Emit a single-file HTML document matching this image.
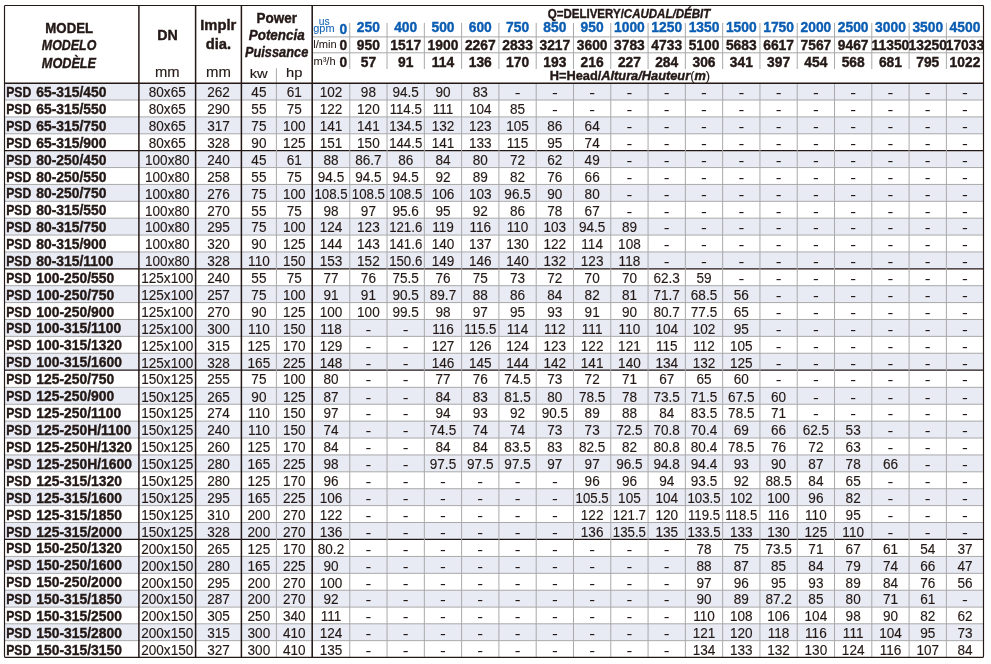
<!DOCTYPE html>
<html lang="en"><head><meta charset="utf-8"><title>PSD performance table</title>
<style>
html,body{margin:0;padding:0;background:#fff;}
body{width:991px;height:664px;overflow:hidden;}
svg{display:block;will-change:transform;font-family:'Liberation Sans', Arial, sans-serif;font-size:13px;fill:#231815;text-anchor:middle;}
text{stroke:#231815;stroke-width:.15px}
.b{font-weight:bold;stroke-width:.4px}
.i{font-style:italic}
.n{font-weight:normal;stroke-width:.15px}
.u{fill:#0b5db3;stroke:#0b5db3}
.d{stroke:none}
.t{stroke-width:.04px}
</style></head><body>
<svg width="991" height="664" viewBox="0 0 991 664">
<rect x="4.5" y="83.15" width="979" height="16.88" fill="#e8ebf4"/>
<rect x="4.5" y="116.91" width="979" height="16.88" fill="#e8ebf4"/>
<rect x="4.5" y="150.67" width="979" height="16.88" fill="#e8ebf4"/>
<rect x="4.5" y="184.43" width="979" height="16.88" fill="#e8ebf4"/>
<rect x="4.5" y="218.18" width="979" height="16.88" fill="#e8ebf4"/>
<rect x="4.5" y="251.94" width="979" height="16.88" fill="#e8ebf4"/>
<rect x="4.5" y="285.7" width="979" height="16.89" fill="#e8ebf4"/>
<rect x="4.5" y="319.48" width="979" height="16.89" fill="#e8ebf4"/>
<rect x="4.5" y="353.26" width="979" height="16.89" fill="#e8ebf4"/>
<rect x="4.5" y="387.35" width="979" height="16.89" fill="#e8ebf4"/>
<rect x="4.5" y="421.14" width="979" height="16.89" fill="#e8ebf4"/>
<rect x="4.5" y="454.93" width="979" height="16.89" fill="#e8ebf4"/>
<rect x="4.5" y="488.72" width="979" height="16.89" fill="#e8ebf4"/>
<rect x="4.5" y="522.51" width="979" height="16.89" fill="#e8ebf4"/>
<rect x="4.5" y="556.45" width="979" height="16.88" fill="#e8ebf4"/>
<rect x="4.5" y="590.22" width="979" height="16.88" fill="#e8ebf4"/>
<rect x="4.5" y="623.8" width="979" height="16.85" fill="#e8ebf4"/>
<g stroke="#a9a9aa" stroke-width="1">
<line x1="4.5" y1="100.03" x2="983.5" y2="100.03"/>
<line x1="4.5" y1="116.91" x2="983.5" y2="116.91"/>
<line x1="4.5" y1="133.79" x2="983.5" y2="133.79"/>
<line x1="4.5" y1="167.55" x2="983.5" y2="167.55"/>
<line x1="4.5" y1="184.43" x2="983.5" y2="184.43"/>
<line x1="4.5" y1="201.3" x2="983.5" y2="201.3"/>
<line x1="4.5" y1="218.18" x2="983.5" y2="218.18"/>
<line x1="4.5" y1="235.06" x2="983.5" y2="235.06"/>
<line x1="4.5" y1="251.94" x2="983.5" y2="251.94"/>
<line x1="4.5" y1="285.7" x2="983.5" y2="285.7"/>
<line x1="4.5" y1="302.59" x2="983.5" y2="302.59"/>
<line x1="4.5" y1="319.48" x2="983.5" y2="319.48"/>
<line x1="4.5" y1="336.37" x2="983.5" y2="336.37"/>
<line x1="4.5" y1="353.26" x2="983.5" y2="353.26"/>
<line x1="4.5" y1="387.35" x2="983.5" y2="387.35"/>
<line x1="4.5" y1="404.24" x2="983.5" y2="404.24"/>
<line x1="4.5" y1="421.14" x2="983.5" y2="421.14"/>
<line x1="4.5" y1="438.03" x2="983.5" y2="438.03"/>
<line x1="4.5" y1="454.93" x2="983.5" y2="454.93"/>
<line x1="4.5" y1="471.82" x2="983.5" y2="471.82"/>
<line x1="4.5" y1="488.72" x2="983.5" y2="488.72"/>
<line x1="4.5" y1="505.61" x2="983.5" y2="505.61"/>
<line x1="4.5" y1="522.51" x2="983.5" y2="522.51"/>
<line x1="4.5" y1="556.45" x2="983.5" y2="556.45"/>
<line x1="4.5" y1="573.33" x2="983.5" y2="573.33"/>
<line x1="4.5" y1="590.22" x2="983.5" y2="590.22"/>
<line x1="4.5" y1="607.1" x2="983.5" y2="607.1"/>
<line x1="4.5" y1="623.8" x2="983.5" y2="623.8"/>
<line x1="4.5" y1="640.65" x2="983.5" y2="640.65"/>
</g>
<line x1="4.5" y1="150.67" x2="983.5" y2="150.67" stroke="#231815" stroke-width="1.3"/>
<line x1="4.5" y1="268.82" x2="983.5" y2="268.82" stroke="#231815" stroke-width="1.3"/>
<line x1="4.5" y1="370.15" x2="983.5" y2="370.15" stroke="#231815" stroke-width="1.3"/>
<line x1="4.5" y1="539.4" x2="983.5" y2="539.4" stroke="#231815" stroke-width="1.3"/>
<g stroke="#a9a9aa" stroke-width="1">
<line x1="349.75" y1="83.15" x2="349.75" y2="657.3"/>
<line x1="349.75" y1="22.9" x2="349.75" y2="69"/>
<line x1="387.04" y1="83.15" x2="387.04" y2="657.3"/>
<line x1="387.04" y1="22.9" x2="387.04" y2="69"/>
<line x1="424.33" y1="83.15" x2="424.33" y2="657.3"/>
<line x1="424.33" y1="22.9" x2="424.33" y2="69"/>
<line x1="461.62" y1="83.15" x2="461.62" y2="657.3"/>
<line x1="461.62" y1="22.9" x2="461.62" y2="69"/>
<line x1="498.91" y1="83.15" x2="498.91" y2="657.3"/>
<line x1="498.91" y1="22.9" x2="498.91" y2="69"/>
<line x1="536.2" y1="83.15" x2="536.2" y2="657.3"/>
<line x1="536.2" y1="22.9" x2="536.2" y2="69"/>
<line x1="573.49" y1="83.15" x2="573.49" y2="657.3"/>
<line x1="573.49" y1="22.9" x2="573.49" y2="69"/>
<line x1="610.78" y1="83.15" x2="610.78" y2="657.3"/>
<line x1="610.78" y1="22.9" x2="610.78" y2="69"/>
<line x1="648.07" y1="83.15" x2="648.07" y2="657.3"/>
<line x1="648.07" y1="22.9" x2="648.07" y2="69"/>
<line x1="685.36" y1="83.15" x2="685.36" y2="657.3"/>
<line x1="685.36" y1="22.9" x2="685.36" y2="69"/>
<line x1="722.65" y1="83.15" x2="722.65" y2="657.3"/>
<line x1="722.65" y1="22.9" x2="722.65" y2="69"/>
<line x1="759.94" y1="83.15" x2="759.94" y2="657.3"/>
<line x1="759.94" y1="22.9" x2="759.94" y2="69"/>
<line x1="797.23" y1="83.15" x2="797.23" y2="657.3"/>
<line x1="797.23" y1="22.9" x2="797.23" y2="69"/>
<line x1="834.52" y1="83.15" x2="834.52" y2="657.3"/>
<line x1="834.52" y1="22.9" x2="834.52" y2="69"/>
<line x1="871.81" y1="83.15" x2="871.81" y2="657.3"/>
<line x1="871.81" y1="22.9" x2="871.81" y2="69"/>
<line x1="909.1" y1="83.15" x2="909.1" y2="657.3"/>
<line x1="909.1" y1="22.9" x2="909.1" y2="69"/>
<line x1="946.39" y1="83.15" x2="946.39" y2="657.3"/>
<line x1="946.39" y1="22.9" x2="946.39" y2="69"/>
<line x1="276.4" y1="68.2" x2="276.4" y2="657.3"/>
<line x1="312.2" y1="36.9" x2="983.5" y2="36.9"/>
<line x1="312.2" y1="52.8" x2="983.5" y2="52.8"/>
</g>
<line x1="138.9" y1="5.5" x2="138.9" y2="657.3" stroke="#231815" stroke-width="1.5"/>
<line x1="195.6" y1="5.5" x2="195.6" y2="657.3" stroke="#231815" stroke-width="1.5"/>
<line x1="241.4" y1="5.5" x2="241.4" y2="657.3" stroke="#231815" stroke-width="1.5"/>
<line x1="312.2" y1="5.5" x2="312.2" y2="657.3" stroke="#231815" stroke-width="1.55"/>
<line x1="4.5" y1="83.15" x2="983.5" y2="83.15" stroke="#231815" stroke-width="1.5"/>
<rect x="4.5" y="5.5" width="979" height="651.8" fill="none" rx=".8" stroke="#231815" stroke-width="1.15"/>
<text transform="translate(69.2 32.7) scale(0.893 1)" font-size="14.8" class="b">MODEL</text>
<text transform="translate(69.05 50.3) scale(0.84 1)" font-size="14.8" class="b i">MODELO</text>
<text transform="translate(68.95 68.45) scale(0.857 1)" font-size="14.8" class="b i">MODÈLE</text>
<text transform="translate(167.4 39.6) scale(0.95 1)" font-size="15" class="b">DN</text>
<text transform="translate(167.3 76.9) scale(1.04 1)" font-size="14.2">mm</text>
<text transform="translate(218.2 29.8) scale(0.984 1)" font-size="15" class="b">Implr</text>
<text transform="translate(218.4 49.4) scale(0.984 1)" font-size="15" class="b">dia.</text>
<text transform="translate(218.5 76.9) scale(1.05 1)" font-size="14.2">mm</text>
<text transform="translate(276.7 23.3) scale(0.9 1)" font-size="15" class="b">Power</text>
<text transform="translate(276.7 40.25) scale(0.92 1)" font-size="14.6" class="b i">Potencia</text>
<text transform="translate(276.6 56.7) scale(0.877 1)" font-size="14.6" class="b i">Puissance</text>
<text transform="translate(258.7 78.4) scale(1.09 1)" font-size="13.5">kw</text>
<text transform="translate(294.2 76.75) scale(1.09 1)" font-size="13.5">hp</text>
<text transform="translate(629 18.3) scale(0.848 1)" font-size="13.6" class="b">Q=DELIVERY/<tspan class="i">CAUDAL/DÉBIT</tspan></text>
<text x="629.9" y="79.6" font-size="12.8" class="b">H=Head/<tspan class="i">Altura/Hauteur</tspan><tspan class="n">(</tspan><tspan class="i">m</tspan><tspan class="n">)</tspan></text>
<text x="324.3" y="24.9" font-size="10.3" class="u t">us</text>
<text transform="translate(323.9 32.3) scale(1.04 1)" font-size="10.5" class="u t">gpm</text>
<text transform="translate(325 47.8) scale(1.03 1)" font-size="10.8" class="t">l/min</text>
<text transform="translate(324.5 65.2) scale(1.03 1)" font-size="10.8" class="t">m³/h</text>
<text transform="translate(343.3 34.2) scale(0.96 1)" font-size="14.4" class="b u">0</text>
<text transform="translate(343.3 49.9) scale(0.96 1)" font-size="14.4" class="b">0</text>
<text transform="translate(343.3 66.85) scale(0.96 1)" font-size="14.4" class="b">0</text>
<text transform="translate(368.39 31.7) scale(0.96 1)" font-size="14.4" class="b u">250</text>
<text transform="translate(368.39 49.9) scale(0.96 1)" font-size="14.4" class="b">950</text>
<text transform="translate(368.39 66.9) scale(0.96 1)" font-size="14.4" class="b">57</text>
<text transform="translate(405.69 31.7) scale(0.96 1)" font-size="14.4" class="b u">400</text>
<text transform="translate(405.69 49.9) scale(0.96 1)" font-size="14.4" class="b">1517</text>
<text transform="translate(405.69 66.9) scale(0.96 1)" font-size="14.4" class="b">91</text>
<text transform="translate(442.98 31.7) scale(0.96 1)" font-size="14.4" class="b u">500</text>
<text transform="translate(442.98 49.9) scale(0.96 1)" font-size="14.4" class="b">1900</text>
<text transform="translate(442.98 66.9) scale(0.96 1)" font-size="14.4" class="b">114</text>
<text transform="translate(480.26 31.7) scale(0.96 1)" font-size="14.4" class="b u">600</text>
<text transform="translate(480.26 49.9) scale(0.96 1)" font-size="14.4" class="b">2267</text>
<text transform="translate(480.26 66.9) scale(0.96 1)" font-size="14.4" class="b">136</text>
<text transform="translate(517.56 31.7) scale(0.96 1)" font-size="14.4" class="b u">750</text>
<text transform="translate(517.56 49.9) scale(0.96 1)" font-size="14.4" class="b">2833</text>
<text transform="translate(517.56 66.9) scale(0.96 1)" font-size="14.4" class="b">170</text>
<text transform="translate(554.85 31.7) scale(0.96 1)" font-size="14.4" class="b u">850</text>
<text transform="translate(554.85 49.9) scale(0.96 1)" font-size="14.4" class="b">3217</text>
<text transform="translate(554.85 66.9) scale(0.96 1)" font-size="14.4" class="b">193</text>
<text transform="translate(592.13 31.7) scale(0.96 1)" font-size="14.4" class="b u">950</text>
<text transform="translate(592.13 49.9) scale(0.96 1)" font-size="14.4" class="b">3600</text>
<text transform="translate(592.13 66.9) scale(0.96 1)" font-size="14.4" class="b">216</text>
<text transform="translate(629.42 31.7) scale(0.96 1)" font-size="14.4" class="b u">1000</text>
<text transform="translate(629.42 49.9) scale(0.96 1)" font-size="14.4" class="b">3783</text>
<text transform="translate(629.42 66.9) scale(0.96 1)" font-size="14.4" class="b">227</text>
<text transform="translate(666.71 31.7) scale(0.96 1)" font-size="14.4" class="b u">1250</text>
<text transform="translate(666.71 49.9) scale(0.96 1)" font-size="14.4" class="b">4733</text>
<text transform="translate(666.71 66.9) scale(0.96 1)" font-size="14.4" class="b">284</text>
<text transform="translate(704 31.7) scale(0.96 1)" font-size="14.4" class="b u">1350</text>
<text transform="translate(704 49.9) scale(0.96 1)" font-size="14.4" class="b">5100</text>
<text transform="translate(704 66.9) scale(0.96 1)" font-size="14.4" class="b">306</text>
<text transform="translate(741.3 31.7) scale(0.96 1)" font-size="14.4" class="b u">1500</text>
<text transform="translate(741.3 49.9) scale(0.96 1)" font-size="14.4" class="b">5683</text>
<text transform="translate(741.3 66.9) scale(0.96 1)" font-size="14.4" class="b">341</text>
<text transform="translate(778.59 31.7) scale(0.96 1)" font-size="14.4" class="b u">1750</text>
<text transform="translate(778.59 49.9) scale(0.96 1)" font-size="14.4" class="b">6617</text>
<text transform="translate(778.59 66.9) scale(0.96 1)" font-size="14.4" class="b">397</text>
<text transform="translate(815.88 31.7) scale(0.96 1)" font-size="14.4" class="b u">2000</text>
<text transform="translate(815.88 49.9) scale(0.96 1)" font-size="14.4" class="b">7567</text>
<text transform="translate(815.88 66.9) scale(0.96 1)" font-size="14.4" class="b">454</text>
<text transform="translate(853.16 31.7) scale(0.96 1)" font-size="14.4" class="b u">2500</text>
<text transform="translate(853.16 49.9) scale(0.96 1)" font-size="14.4" class="b">9467</text>
<text transform="translate(853.16 66.9) scale(0.96 1)" font-size="14.4" class="b">568</text>
<text transform="translate(890.45 31.7) scale(0.96 1)" font-size="14.4" class="b u">3000</text>
<text transform="translate(890.45 49.9) scale(0.96 1)" font-size="14.4" class="b">11350</text>
<text transform="translate(890.45 66.9) scale(0.96 1)" font-size="14.4" class="b">681</text>
<text transform="translate(927.75 31.7) scale(0.96 1)" font-size="14.4" class="b u">3500</text>
<text transform="translate(927.75 49.9) scale(0.96 1)" font-size="14.4" class="b">13250</text>
<text transform="translate(927.75 66.9) scale(0.96 1)" font-size="14.4" class="b">795</text>
<text transform="translate(964.94 31.7) scale(0.96 1)" font-size="14.4" class="b u">4500</text>
<text transform="translate(964.94 49.9) scale(0.96 1)" font-size="14.4" class="b">17033</text>
<text transform="translate(964.94 66.9) scale(0.96 1)" font-size="14.4" class="b">1022</text>
<text x="6.2" y="97.15" text-anchor="start" font-size="14.4" class="b"><tspan textLength="25.11" lengthAdjust="spacingAndGlyphs">PSD</tspan><tspan dx="1.0"> </tspan><tspan textLength="70.17" lengthAdjust="spacingAndGlyphs">65-315/450</tspan></text>
<text transform="translate(167.25 97.4) scale(0.93 1)" font-size="14.6">80x65</text>
<text transform="translate(218.5 97.4) scale(0.93 1)" font-size="14.6">262</text>
<text transform="translate(258.9 97.4) scale(0.93 1)" font-size="14.6">45</text>
<text transform="translate(294.3 97.4) scale(0.93 1)" font-size="14.6">61</text>
<text transform="translate(330.98 97.4) scale(0.93 1)" font-size="14.6">102</text>
<text transform="translate(368.39 97.4) scale(0.93 1)" font-size="14.6">98</text>
<text transform="translate(405.69 97.4) scale(0.93 1)" font-size="14.6">94.5</text>
<text transform="translate(442.98 97.4) scale(0.93 1)" font-size="14.6">90</text>
<text transform="translate(480.26 97.4) scale(0.93 1)" font-size="14.6">83</text>
<text class="d" transform="translate(517.56 98.4) scale(1.2 1)" font-size="14.6">-</text>
<text class="d" transform="translate(554.85 98.4) scale(1.2 1)" font-size="14.6">-</text>
<text class="d" transform="translate(592.13 98.4) scale(1.2 1)" font-size="14.6">-</text>
<text class="d" transform="translate(629.42 98.4) scale(1.2 1)" font-size="14.6">-</text>
<text class="d" transform="translate(666.71 98.4) scale(1.2 1)" font-size="14.6">-</text>
<text class="d" transform="translate(704 98.4) scale(1.2 1)" font-size="14.6">-</text>
<text class="d" transform="translate(741.3 98.4) scale(1.2 1)" font-size="14.6">-</text>
<text class="d" transform="translate(778.59 98.4) scale(1.2 1)" font-size="14.6">-</text>
<text class="d" transform="translate(815.88 98.4) scale(1.2 1)" font-size="14.6">-</text>
<text class="d" transform="translate(853.16 98.4) scale(1.2 1)" font-size="14.6">-</text>
<text class="d" transform="translate(890.45 98.4) scale(1.2 1)" font-size="14.6">-</text>
<text class="d" transform="translate(927.75 98.4) scale(1.2 1)" font-size="14.6">-</text>
<text class="d" transform="translate(964.94 98.4) scale(1.2 1)" font-size="14.6">-</text>
<text x="6.2" y="114.03" text-anchor="start" font-size="14.4" class="b"><tspan textLength="25.11" lengthAdjust="spacingAndGlyphs">PSD</tspan><tspan dx="1.0"> </tspan><tspan textLength="70.17" lengthAdjust="spacingAndGlyphs">65-315/550</tspan></text>
<text transform="translate(167.25 114.28) scale(0.93 1)" font-size="14.6">80x65</text>
<text transform="translate(218.5 114.28) scale(0.93 1)" font-size="14.6">290</text>
<text transform="translate(258.9 114.28) scale(0.93 1)" font-size="14.6">55</text>
<text transform="translate(294.3 114.28) scale(0.93 1)" font-size="14.6">75</text>
<text transform="translate(330.98 114.28) scale(0.93 1)" font-size="14.6">122</text>
<text transform="translate(368.39 114.28) scale(0.93 1)" font-size="14.6">120</text>
<text transform="translate(405.69 114.28) scale(0.907 1)" font-size="14.6">114.5</text>
<text transform="translate(442.98 114.28) scale(0.93 1)" font-size="14.6">111</text>
<text transform="translate(480.26 114.28) scale(0.93 1)" font-size="14.6">104</text>
<text transform="translate(517.56 114.28) scale(0.93 1)" font-size="14.6">85</text>
<text class="d" transform="translate(554.85 115.28) scale(1.2 1)" font-size="14.6">-</text>
<text class="d" transform="translate(592.13 115.28) scale(1.2 1)" font-size="14.6">-</text>
<text class="d" transform="translate(629.42 115.28) scale(1.2 1)" font-size="14.6">-</text>
<text class="d" transform="translate(666.71 115.28) scale(1.2 1)" font-size="14.6">-</text>
<text class="d" transform="translate(704 115.28) scale(1.2 1)" font-size="14.6">-</text>
<text class="d" transform="translate(741.3 115.28) scale(1.2 1)" font-size="14.6">-</text>
<text class="d" transform="translate(778.59 115.28) scale(1.2 1)" font-size="14.6">-</text>
<text class="d" transform="translate(815.88 115.28) scale(1.2 1)" font-size="14.6">-</text>
<text class="d" transform="translate(853.16 115.28) scale(1.2 1)" font-size="14.6">-</text>
<text class="d" transform="translate(890.45 115.28) scale(1.2 1)" font-size="14.6">-</text>
<text class="d" transform="translate(927.75 115.28) scale(1.2 1)" font-size="14.6">-</text>
<text class="d" transform="translate(964.94 115.28) scale(1.2 1)" font-size="14.6">-</text>
<text x="6.2" y="130.91" text-anchor="start" font-size="14.4" class="b"><tspan textLength="25.11" lengthAdjust="spacingAndGlyphs">PSD</tspan><tspan dx="1.0"> </tspan><tspan textLength="70.17" lengthAdjust="spacingAndGlyphs">65-315/750</tspan></text>
<text transform="translate(167.25 131.16) scale(0.93 1)" font-size="14.6">80x65</text>
<text transform="translate(218.5 131.16) scale(0.93 1)" font-size="14.6">317</text>
<text transform="translate(258.9 131.16) scale(0.93 1)" font-size="14.6">75</text>
<text transform="translate(294.3 131.16) scale(0.93 1)" font-size="14.6">100</text>
<text transform="translate(330.98 131.16) scale(0.93 1)" font-size="14.6">141</text>
<text transform="translate(368.39 131.16) scale(0.93 1)" font-size="14.6">141</text>
<text transform="translate(405.69 131.16) scale(0.907 1)" font-size="14.6">134.5</text>
<text transform="translate(442.98 131.16) scale(0.93 1)" font-size="14.6">132</text>
<text transform="translate(480.26 131.16) scale(0.93 1)" font-size="14.6">123</text>
<text transform="translate(517.56 131.16) scale(0.93 1)" font-size="14.6">105</text>
<text transform="translate(554.85 131.16) scale(0.93 1)" font-size="14.6">86</text>
<text transform="translate(592.13 131.16) scale(0.93 1)" font-size="14.6">64</text>
<text class="d" transform="translate(629.42 132.16) scale(1.2 1)" font-size="14.6">-</text>
<text class="d" transform="translate(666.71 132.16) scale(1.2 1)" font-size="14.6">-</text>
<text class="d" transform="translate(704 132.16) scale(1.2 1)" font-size="14.6">-</text>
<text class="d" transform="translate(741.3 132.16) scale(1.2 1)" font-size="14.6">-</text>
<text class="d" transform="translate(778.59 132.16) scale(1.2 1)" font-size="14.6">-</text>
<text class="d" transform="translate(815.88 132.16) scale(1.2 1)" font-size="14.6">-</text>
<text class="d" transform="translate(853.16 132.16) scale(1.2 1)" font-size="14.6">-</text>
<text class="d" transform="translate(890.45 132.16) scale(1.2 1)" font-size="14.6">-</text>
<text class="d" transform="translate(927.75 132.16) scale(1.2 1)" font-size="14.6">-</text>
<text class="d" transform="translate(964.94 132.16) scale(1.2 1)" font-size="14.6">-</text>
<text x="6.2" y="147.79" text-anchor="start" font-size="14.4" class="b"><tspan textLength="25.11" lengthAdjust="spacingAndGlyphs">PSD</tspan><tspan dx="1.0"> </tspan><tspan textLength="70.17" lengthAdjust="spacingAndGlyphs">65-315/900</tspan></text>
<text transform="translate(167.25 148.04) scale(0.93 1)" font-size="14.6">80x65</text>
<text transform="translate(218.5 148.04) scale(0.93 1)" font-size="14.6">328</text>
<text transform="translate(258.9 148.04) scale(0.93 1)" font-size="14.6">90</text>
<text transform="translate(294.3 148.04) scale(0.93 1)" font-size="14.6">125</text>
<text transform="translate(330.98 148.04) scale(0.93 1)" font-size="14.6">151</text>
<text transform="translate(368.39 148.04) scale(0.93 1)" font-size="14.6">150</text>
<text transform="translate(405.69 148.04) scale(0.907 1)" font-size="14.6">144.5</text>
<text transform="translate(442.98 148.04) scale(0.93 1)" font-size="14.6">141</text>
<text transform="translate(480.26 148.04) scale(0.93 1)" font-size="14.6">133</text>
<text transform="translate(517.56 148.04) scale(0.93 1)" font-size="14.6">115</text>
<text transform="translate(554.85 148.04) scale(0.93 1)" font-size="14.6">95</text>
<text transform="translate(592.13 148.04) scale(0.93 1)" font-size="14.6">74</text>
<text class="d" transform="translate(629.42 149.04) scale(1.2 1)" font-size="14.6">-</text>
<text class="d" transform="translate(666.71 149.04) scale(1.2 1)" font-size="14.6">-</text>
<text class="d" transform="translate(704 149.04) scale(1.2 1)" font-size="14.6">-</text>
<text class="d" transform="translate(741.3 149.04) scale(1.2 1)" font-size="14.6">-</text>
<text class="d" transform="translate(778.59 149.04) scale(1.2 1)" font-size="14.6">-</text>
<text class="d" transform="translate(815.88 149.04) scale(1.2 1)" font-size="14.6">-</text>
<text class="d" transform="translate(853.16 149.04) scale(1.2 1)" font-size="14.6">-</text>
<text class="d" transform="translate(890.45 149.04) scale(1.2 1)" font-size="14.6">-</text>
<text class="d" transform="translate(927.75 149.04) scale(1.2 1)" font-size="14.6">-</text>
<text class="d" transform="translate(964.94 149.04) scale(1.2 1)" font-size="14.6">-</text>
<text x="6.2" y="164.67" text-anchor="start" font-size="14.4" class="b"><tspan textLength="25.11" lengthAdjust="spacingAndGlyphs">PSD</tspan><tspan dx="1.0"> </tspan><tspan textLength="70.17" lengthAdjust="spacingAndGlyphs">80-250/450</tspan></text>
<text transform="translate(167.25 164.92) scale(0.93 1)" font-size="14.6">100x80</text>
<text transform="translate(218.5 164.92) scale(0.93 1)" font-size="14.6">240</text>
<text transform="translate(258.9 164.92) scale(0.93 1)" font-size="14.6">45</text>
<text transform="translate(294.3 164.92) scale(0.93 1)" font-size="14.6">61</text>
<text transform="translate(330.98 164.92) scale(0.93 1)" font-size="14.6">88</text>
<text transform="translate(368.39 164.92) scale(0.93 1)" font-size="14.6">86.7</text>
<text transform="translate(405.69 164.92) scale(0.93 1)" font-size="14.6">86</text>
<text transform="translate(442.98 164.92) scale(0.93 1)" font-size="14.6">84</text>
<text transform="translate(480.26 164.92) scale(0.93 1)" font-size="14.6">80</text>
<text transform="translate(517.56 164.92) scale(0.93 1)" font-size="14.6">72</text>
<text transform="translate(554.85 164.92) scale(0.93 1)" font-size="14.6">62</text>
<text transform="translate(592.13 164.92) scale(0.93 1)" font-size="14.6">49</text>
<text class="d" transform="translate(629.42 165.92) scale(1.2 1)" font-size="14.6">-</text>
<text class="d" transform="translate(666.71 165.92) scale(1.2 1)" font-size="14.6">-</text>
<text class="d" transform="translate(704 165.92) scale(1.2 1)" font-size="14.6">-</text>
<text class="d" transform="translate(741.3 165.92) scale(1.2 1)" font-size="14.6">-</text>
<text class="d" transform="translate(778.59 165.92) scale(1.2 1)" font-size="14.6">-</text>
<text class="d" transform="translate(815.88 165.92) scale(1.2 1)" font-size="14.6">-</text>
<text class="d" transform="translate(853.16 165.92) scale(1.2 1)" font-size="14.6">-</text>
<text class="d" transform="translate(890.45 165.92) scale(1.2 1)" font-size="14.6">-</text>
<text class="d" transform="translate(927.75 165.92) scale(1.2 1)" font-size="14.6">-</text>
<text class="d" transform="translate(964.94 165.92) scale(1.2 1)" font-size="14.6">-</text>
<text x="6.2" y="181.55" text-anchor="start" font-size="14.4" class="b"><tspan textLength="25.11" lengthAdjust="spacingAndGlyphs">PSD</tspan><tspan dx="1.0"> </tspan><tspan textLength="70.17" lengthAdjust="spacingAndGlyphs">80-250/550</tspan></text>
<text transform="translate(167.25 181.8) scale(0.93 1)" font-size="14.6">100x80</text>
<text transform="translate(218.5 181.8) scale(0.93 1)" font-size="14.6">258</text>
<text transform="translate(258.9 181.8) scale(0.93 1)" font-size="14.6">55</text>
<text transform="translate(294.3 181.8) scale(0.93 1)" font-size="14.6">75</text>
<text transform="translate(330.98 181.8) scale(0.93 1)" font-size="14.6">94.5</text>
<text transform="translate(368.39 181.8) scale(0.93 1)" font-size="14.6">94.5</text>
<text transform="translate(405.69 181.8) scale(0.93 1)" font-size="14.6">94.5</text>
<text transform="translate(442.98 181.8) scale(0.93 1)" font-size="14.6">92</text>
<text transform="translate(480.26 181.8) scale(0.93 1)" font-size="14.6">89</text>
<text transform="translate(517.56 181.8) scale(0.93 1)" font-size="14.6">82</text>
<text transform="translate(554.85 181.8) scale(0.93 1)" font-size="14.6">76</text>
<text transform="translate(592.13 181.8) scale(0.93 1)" font-size="14.6">66</text>
<text class="d" transform="translate(629.42 182.8) scale(1.2 1)" font-size="14.6">-</text>
<text class="d" transform="translate(666.71 182.8) scale(1.2 1)" font-size="14.6">-</text>
<text class="d" transform="translate(704 182.8) scale(1.2 1)" font-size="14.6">-</text>
<text class="d" transform="translate(741.3 182.8) scale(1.2 1)" font-size="14.6">-</text>
<text class="d" transform="translate(778.59 182.8) scale(1.2 1)" font-size="14.6">-</text>
<text class="d" transform="translate(815.88 182.8) scale(1.2 1)" font-size="14.6">-</text>
<text class="d" transform="translate(853.16 182.8) scale(1.2 1)" font-size="14.6">-</text>
<text class="d" transform="translate(890.45 182.8) scale(1.2 1)" font-size="14.6">-</text>
<text class="d" transform="translate(927.75 182.8) scale(1.2 1)" font-size="14.6">-</text>
<text class="d" transform="translate(964.94 182.8) scale(1.2 1)" font-size="14.6">-</text>
<text x="6.2" y="198.43" text-anchor="start" font-size="14.4" class="b"><tspan textLength="25.11" lengthAdjust="spacingAndGlyphs">PSD</tspan><tspan dx="1.0"> </tspan><tspan textLength="70.17" lengthAdjust="spacingAndGlyphs">80-250/750</tspan></text>
<text transform="translate(167.25 198.68) scale(0.93 1)" font-size="14.6">100x80</text>
<text transform="translate(218.5 198.68) scale(0.93 1)" font-size="14.6">276</text>
<text transform="translate(258.9 198.68) scale(0.93 1)" font-size="14.6">75</text>
<text transform="translate(294.3 198.68) scale(0.93 1)" font-size="14.6">100</text>
<text transform="translate(330.98 198.68) scale(0.907 1)" font-size="14.6">108.5</text>
<text transform="translate(368.39 198.68) scale(0.907 1)" font-size="14.6">108.5</text>
<text transform="translate(405.69 198.68) scale(0.907 1)" font-size="14.6">108.5</text>
<text transform="translate(442.98 198.68) scale(0.93 1)" font-size="14.6">106</text>
<text transform="translate(480.26 198.68) scale(0.93 1)" font-size="14.6">103</text>
<text transform="translate(517.56 198.68) scale(0.93 1)" font-size="14.6">96.5</text>
<text transform="translate(554.85 198.68) scale(0.93 1)" font-size="14.6">90</text>
<text transform="translate(592.13 198.68) scale(0.93 1)" font-size="14.6">80</text>
<text class="d" transform="translate(629.42 199.68) scale(1.2 1)" font-size="14.6">-</text>
<text class="d" transform="translate(666.71 199.68) scale(1.2 1)" font-size="14.6">-</text>
<text class="d" transform="translate(704 199.68) scale(1.2 1)" font-size="14.6">-</text>
<text class="d" transform="translate(741.3 199.68) scale(1.2 1)" font-size="14.6">-</text>
<text class="d" transform="translate(778.59 199.68) scale(1.2 1)" font-size="14.6">-</text>
<text class="d" transform="translate(815.88 199.68) scale(1.2 1)" font-size="14.6">-</text>
<text class="d" transform="translate(853.16 199.68) scale(1.2 1)" font-size="14.6">-</text>
<text class="d" transform="translate(890.45 199.68) scale(1.2 1)" font-size="14.6">-</text>
<text class="d" transform="translate(927.75 199.68) scale(1.2 1)" font-size="14.6">-</text>
<text class="d" transform="translate(964.94 199.68) scale(1.2 1)" font-size="14.6">-</text>
<text x="6.2" y="215.3" text-anchor="start" font-size="14.4" class="b"><tspan textLength="25.11" lengthAdjust="spacingAndGlyphs">PSD</tspan><tspan dx="1.0"> </tspan><tspan textLength="70.17" lengthAdjust="spacingAndGlyphs">80-315/550</tspan></text>
<text transform="translate(167.25 215.55) scale(0.93 1)" font-size="14.6">100x80</text>
<text transform="translate(218.5 215.55) scale(0.93 1)" font-size="14.6">270</text>
<text transform="translate(258.9 215.55) scale(0.93 1)" font-size="14.6">55</text>
<text transform="translate(294.3 215.55) scale(0.93 1)" font-size="14.6">75</text>
<text transform="translate(330.98 215.55) scale(0.93 1)" font-size="14.6">98</text>
<text transform="translate(368.39 215.55) scale(0.93 1)" font-size="14.6">97</text>
<text transform="translate(405.69 215.55) scale(0.93 1)" font-size="14.6">95.6</text>
<text transform="translate(442.98 215.55) scale(0.93 1)" font-size="14.6">95</text>
<text transform="translate(480.26 215.55) scale(0.93 1)" font-size="14.6">92</text>
<text transform="translate(517.56 215.55) scale(0.93 1)" font-size="14.6">86</text>
<text transform="translate(554.85 215.55) scale(0.93 1)" font-size="14.6">78</text>
<text transform="translate(592.13 215.55) scale(0.93 1)" font-size="14.6">67</text>
<text class="d" transform="translate(629.42 216.55) scale(1.2 1)" font-size="14.6">-</text>
<text class="d" transform="translate(666.71 216.55) scale(1.2 1)" font-size="14.6">-</text>
<text class="d" transform="translate(704 216.55) scale(1.2 1)" font-size="14.6">-</text>
<text class="d" transform="translate(741.3 216.55) scale(1.2 1)" font-size="14.6">-</text>
<text class="d" transform="translate(778.59 216.55) scale(1.2 1)" font-size="14.6">-</text>
<text class="d" transform="translate(815.88 216.55) scale(1.2 1)" font-size="14.6">-</text>
<text class="d" transform="translate(853.16 216.55) scale(1.2 1)" font-size="14.6">-</text>
<text class="d" transform="translate(890.45 216.55) scale(1.2 1)" font-size="14.6">-</text>
<text class="d" transform="translate(927.75 216.55) scale(1.2 1)" font-size="14.6">-</text>
<text class="d" transform="translate(964.94 216.55) scale(1.2 1)" font-size="14.6">-</text>
<text x="6.2" y="232.18" text-anchor="start" font-size="14.4" class="b"><tspan textLength="25.11" lengthAdjust="spacingAndGlyphs">PSD</tspan><tspan dx="1.0"> </tspan><tspan textLength="70.17" lengthAdjust="spacingAndGlyphs">80-315/750</tspan></text>
<text transform="translate(167.25 232.43) scale(0.93 1)" font-size="14.6">100x80</text>
<text transform="translate(218.5 232.43) scale(0.93 1)" font-size="14.6">295</text>
<text transform="translate(258.9 232.43) scale(0.93 1)" font-size="14.6">75</text>
<text transform="translate(294.3 232.43) scale(0.93 1)" font-size="14.6">100</text>
<text transform="translate(330.98 232.43) scale(0.93 1)" font-size="14.6">124</text>
<text transform="translate(368.39 232.43) scale(0.93 1)" font-size="14.6">123</text>
<text transform="translate(405.69 232.43) scale(0.907 1)" font-size="14.6">121.6</text>
<text transform="translate(442.98 232.43) scale(0.93 1)" font-size="14.6">119</text>
<text transform="translate(480.26 232.43) scale(0.93 1)" font-size="14.6">116</text>
<text transform="translate(517.56 232.43) scale(0.93 1)" font-size="14.6">110</text>
<text transform="translate(554.85 232.43) scale(0.93 1)" font-size="14.6">103</text>
<text transform="translate(592.13 232.43) scale(0.93 1)" font-size="14.6">94.5</text>
<text transform="translate(629.42 232.43) scale(0.93 1)" font-size="14.6">89</text>
<text class="d" transform="translate(666.71 233.43) scale(1.2 1)" font-size="14.6">-</text>
<text class="d" transform="translate(704 233.43) scale(1.2 1)" font-size="14.6">-</text>
<text class="d" transform="translate(741.3 233.43) scale(1.2 1)" font-size="14.6">-</text>
<text class="d" transform="translate(778.59 233.43) scale(1.2 1)" font-size="14.6">-</text>
<text class="d" transform="translate(815.88 233.43) scale(1.2 1)" font-size="14.6">-</text>
<text class="d" transform="translate(853.16 233.43) scale(1.2 1)" font-size="14.6">-</text>
<text class="d" transform="translate(890.45 233.43) scale(1.2 1)" font-size="14.6">-</text>
<text class="d" transform="translate(927.75 233.43) scale(1.2 1)" font-size="14.6">-</text>
<text class="d" transform="translate(964.94 233.43) scale(1.2 1)" font-size="14.6">-</text>
<text x="6.2" y="249.06" text-anchor="start" font-size="14.4" class="b"><tspan textLength="25.11" lengthAdjust="spacingAndGlyphs">PSD</tspan><tspan dx="1.0"> </tspan><tspan textLength="70.17" lengthAdjust="spacingAndGlyphs">80-315/900</tspan></text>
<text transform="translate(167.25 249.31) scale(0.93 1)" font-size="14.6">100x80</text>
<text transform="translate(218.5 249.31) scale(0.93 1)" font-size="14.6">320</text>
<text transform="translate(258.9 249.31) scale(0.93 1)" font-size="14.6">90</text>
<text transform="translate(294.3 249.31) scale(0.93 1)" font-size="14.6">125</text>
<text transform="translate(330.98 249.31) scale(0.93 1)" font-size="14.6">144</text>
<text transform="translate(368.39 249.31) scale(0.93 1)" font-size="14.6">143</text>
<text transform="translate(405.69 249.31) scale(0.907 1)" font-size="14.6">141.6</text>
<text transform="translate(442.98 249.31) scale(0.93 1)" font-size="14.6">140</text>
<text transform="translate(480.26 249.31) scale(0.93 1)" font-size="14.6">137</text>
<text transform="translate(517.56 249.31) scale(0.93 1)" font-size="14.6">130</text>
<text transform="translate(554.85 249.31) scale(0.93 1)" font-size="14.6">122</text>
<text transform="translate(592.13 249.31) scale(0.93 1)" font-size="14.6">114</text>
<text transform="translate(629.42 249.31) scale(0.93 1)" font-size="14.6">108</text>
<text class="d" transform="translate(666.71 250.31) scale(1.2 1)" font-size="14.6">-</text>
<text class="d" transform="translate(704 250.31) scale(1.2 1)" font-size="14.6">-</text>
<text class="d" transform="translate(741.3 250.31) scale(1.2 1)" font-size="14.6">-</text>
<text class="d" transform="translate(778.59 250.31) scale(1.2 1)" font-size="14.6">-</text>
<text class="d" transform="translate(815.88 250.31) scale(1.2 1)" font-size="14.6">-</text>
<text class="d" transform="translate(853.16 250.31) scale(1.2 1)" font-size="14.6">-</text>
<text class="d" transform="translate(890.45 250.31) scale(1.2 1)" font-size="14.6">-</text>
<text class="d" transform="translate(927.75 250.31) scale(1.2 1)" font-size="14.6">-</text>
<text class="d" transform="translate(964.94 250.31) scale(1.2 1)" font-size="14.6">-</text>
<text x="6.2" y="265.94" text-anchor="start" font-size="14.4" class="b"><tspan textLength="25.11" lengthAdjust="spacingAndGlyphs">PSD</tspan><tspan dx="1.0"> </tspan><tspan textLength="77.12" lengthAdjust="spacingAndGlyphs">80-315/1100</tspan></text>
<text transform="translate(167.25 266.19) scale(0.93 1)" font-size="14.6">100x80</text>
<text transform="translate(218.5 266.19) scale(0.93 1)" font-size="14.6">328</text>
<text transform="translate(258.9 266.19) scale(0.93 1)" font-size="14.6">110</text>
<text transform="translate(294.3 266.19) scale(0.93 1)" font-size="14.6">150</text>
<text transform="translate(330.98 266.19) scale(0.93 1)" font-size="14.6">153</text>
<text transform="translate(368.39 266.19) scale(0.93 1)" font-size="14.6">152</text>
<text transform="translate(405.69 266.19) scale(0.907 1)" font-size="14.6">150.6</text>
<text transform="translate(442.98 266.19) scale(0.93 1)" font-size="14.6">149</text>
<text transform="translate(480.26 266.19) scale(0.93 1)" font-size="14.6">146</text>
<text transform="translate(517.56 266.19) scale(0.93 1)" font-size="14.6">140</text>
<text transform="translate(554.85 266.19) scale(0.93 1)" font-size="14.6">132</text>
<text transform="translate(592.13 266.19) scale(0.93 1)" font-size="14.6">123</text>
<text transform="translate(629.42 266.19) scale(0.93 1)" font-size="14.6">118</text>
<text class="d" transform="translate(666.71 267.19) scale(1.2 1)" font-size="14.6">-</text>
<text class="d" transform="translate(704 267.19) scale(1.2 1)" font-size="14.6">-</text>
<text class="d" transform="translate(741.3 267.19) scale(1.2 1)" font-size="14.6">-</text>
<text class="d" transform="translate(778.59 267.19) scale(1.2 1)" font-size="14.6">-</text>
<text class="d" transform="translate(815.88 267.19) scale(1.2 1)" font-size="14.6">-</text>
<text class="d" transform="translate(853.16 267.19) scale(1.2 1)" font-size="14.6">-</text>
<text class="d" transform="translate(890.45 267.19) scale(1.2 1)" font-size="14.6">-</text>
<text class="d" transform="translate(927.75 267.19) scale(1.2 1)" font-size="14.6">-</text>
<text class="d" transform="translate(964.94 267.19) scale(1.2 1)" font-size="14.6">-</text>
<text x="6.2" y="282.82" text-anchor="start" font-size="14.4" class="b"><tspan textLength="25.11" lengthAdjust="spacingAndGlyphs">PSD</tspan><tspan dx="1.0"> </tspan><tspan textLength="77.88" lengthAdjust="spacingAndGlyphs">100-250/550</tspan></text>
<text transform="translate(167.25 283.07) scale(0.93 1)" font-size="14.6">125x100</text>
<text transform="translate(218.5 283.07) scale(0.93 1)" font-size="14.6">240</text>
<text transform="translate(258.9 283.07) scale(0.93 1)" font-size="14.6">55</text>
<text transform="translate(294.3 283.07) scale(0.93 1)" font-size="14.6">75</text>
<text transform="translate(330.98 283.07) scale(0.93 1)" font-size="14.6">77</text>
<text transform="translate(368.39 283.07) scale(0.93 1)" font-size="14.6">76</text>
<text transform="translate(405.69 283.07) scale(0.93 1)" font-size="14.6">75.5</text>
<text transform="translate(442.98 283.07) scale(0.93 1)" font-size="14.6">76</text>
<text transform="translate(480.26 283.07) scale(0.93 1)" font-size="14.6">75</text>
<text transform="translate(517.56 283.07) scale(0.93 1)" font-size="14.6">73</text>
<text transform="translate(554.85 283.07) scale(0.93 1)" font-size="14.6">72</text>
<text transform="translate(592.13 283.07) scale(0.93 1)" font-size="14.6">70</text>
<text transform="translate(629.42 283.07) scale(0.93 1)" font-size="14.6">70</text>
<text transform="translate(666.71 283.07) scale(0.93 1)" font-size="14.6">62.3</text>
<text transform="translate(704 283.07) scale(0.93 1)" font-size="14.6">59</text>
<text class="d" transform="translate(741.3 284.07) scale(1.2 1)" font-size="14.6">-</text>
<text class="d" transform="translate(778.59 284.07) scale(1.2 1)" font-size="14.6">-</text>
<text class="d" transform="translate(815.88 284.07) scale(1.2 1)" font-size="14.6">-</text>
<text class="d" transform="translate(853.16 284.07) scale(1.2 1)" font-size="14.6">-</text>
<text class="d" transform="translate(890.45 284.07) scale(1.2 1)" font-size="14.6">-</text>
<text class="d" transform="translate(927.75 284.07) scale(1.2 1)" font-size="14.6">-</text>
<text class="d" transform="translate(964.94 284.07) scale(1.2 1)" font-size="14.6">-</text>
<text x="6.2" y="299.7" text-anchor="start" font-size="14.4" class="b"><tspan textLength="25.11" lengthAdjust="spacingAndGlyphs">PSD</tspan><tspan dx="1.0"> </tspan><tspan textLength="77.88" lengthAdjust="spacingAndGlyphs">100-250/750</tspan></text>
<text transform="translate(167.25 299.95) scale(0.93 1)" font-size="14.6">125x100</text>
<text transform="translate(218.5 299.95) scale(0.93 1)" font-size="14.6">257</text>
<text transform="translate(258.9 299.95) scale(0.93 1)" font-size="14.6">75</text>
<text transform="translate(294.3 299.95) scale(0.93 1)" font-size="14.6">100</text>
<text transform="translate(330.98 299.95) scale(0.93 1)" font-size="14.6">91</text>
<text transform="translate(368.39 299.95) scale(0.93 1)" font-size="14.6">91</text>
<text transform="translate(405.69 299.95) scale(0.93 1)" font-size="14.6">90.5</text>
<text transform="translate(442.98 299.95) scale(0.93 1)" font-size="14.6">89.7</text>
<text transform="translate(480.26 299.95) scale(0.93 1)" font-size="14.6">88</text>
<text transform="translate(517.56 299.95) scale(0.93 1)" font-size="14.6">86</text>
<text transform="translate(554.85 299.95) scale(0.93 1)" font-size="14.6">84</text>
<text transform="translate(592.13 299.95) scale(0.93 1)" font-size="14.6">82</text>
<text transform="translate(629.42 299.95) scale(0.93 1)" font-size="14.6">81</text>
<text transform="translate(666.71 299.95) scale(0.93 1)" font-size="14.6">71.7</text>
<text transform="translate(704 299.95) scale(0.93 1)" font-size="14.6">68.5</text>
<text transform="translate(741.3 299.95) scale(0.93 1)" font-size="14.6">56</text>
<text class="d" transform="translate(778.59 300.95) scale(1.2 1)" font-size="14.6">-</text>
<text class="d" transform="translate(815.88 300.95) scale(1.2 1)" font-size="14.6">-</text>
<text class="d" transform="translate(853.16 300.95) scale(1.2 1)" font-size="14.6">-</text>
<text class="d" transform="translate(890.45 300.95) scale(1.2 1)" font-size="14.6">-</text>
<text class="d" transform="translate(927.75 300.95) scale(1.2 1)" font-size="14.6">-</text>
<text class="d" transform="translate(964.94 300.95) scale(1.2 1)" font-size="14.6">-</text>
<text x="6.2" y="316.59" text-anchor="start" font-size="14.4" class="b"><tspan textLength="25.11" lengthAdjust="spacingAndGlyphs">PSD</tspan><tspan dx="1.0"> </tspan><tspan textLength="77.88" lengthAdjust="spacingAndGlyphs">100-250/900</tspan></text>
<text transform="translate(167.25 316.84) scale(0.93 1)" font-size="14.6">125x100</text>
<text transform="translate(218.5 316.84) scale(0.93 1)" font-size="14.6">270</text>
<text transform="translate(258.9 316.84) scale(0.93 1)" font-size="14.6">90</text>
<text transform="translate(294.3 316.84) scale(0.93 1)" font-size="14.6">125</text>
<text transform="translate(330.98 316.84) scale(0.93 1)" font-size="14.6">100</text>
<text transform="translate(368.39 316.84) scale(0.93 1)" font-size="14.6">100</text>
<text transform="translate(405.69 316.84) scale(0.93 1)" font-size="14.6">99.5</text>
<text transform="translate(442.98 316.84) scale(0.93 1)" font-size="14.6">98</text>
<text transform="translate(480.26 316.84) scale(0.93 1)" font-size="14.6">97</text>
<text transform="translate(517.56 316.84) scale(0.93 1)" font-size="14.6">95</text>
<text transform="translate(554.85 316.84) scale(0.93 1)" font-size="14.6">93</text>
<text transform="translate(592.13 316.84) scale(0.93 1)" font-size="14.6">91</text>
<text transform="translate(629.42 316.84) scale(0.93 1)" font-size="14.6">90</text>
<text transform="translate(666.71 316.84) scale(0.93 1)" font-size="14.6">80.7</text>
<text transform="translate(704 316.84) scale(0.93 1)" font-size="14.6">77.5</text>
<text transform="translate(741.3 316.84) scale(0.93 1)" font-size="14.6">65</text>
<text class="d" transform="translate(778.59 317.84) scale(1.2 1)" font-size="14.6">-</text>
<text class="d" transform="translate(815.88 317.84) scale(1.2 1)" font-size="14.6">-</text>
<text class="d" transform="translate(853.16 317.84) scale(1.2 1)" font-size="14.6">-</text>
<text class="d" transform="translate(890.45 317.84) scale(1.2 1)" font-size="14.6">-</text>
<text class="d" transform="translate(927.75 317.84) scale(1.2 1)" font-size="14.6">-</text>
<text class="d" transform="translate(964.94 317.84) scale(1.2 1)" font-size="14.6">-</text>
<text x="6.2" y="333.48" text-anchor="start" font-size="14.4" class="b"><tspan textLength="25.11" lengthAdjust="spacingAndGlyphs">PSD</tspan><tspan dx="1.0"> </tspan><tspan textLength="84.83" lengthAdjust="spacingAndGlyphs">100-315/1100</tspan></text>
<text transform="translate(167.25 333.73) scale(0.93 1)" font-size="14.6">125x100</text>
<text transform="translate(218.5 333.73) scale(0.93 1)" font-size="14.6">300</text>
<text transform="translate(258.9 333.73) scale(0.93 1)" font-size="14.6">110</text>
<text transform="translate(294.3 333.73) scale(0.93 1)" font-size="14.6">150</text>
<text transform="translate(330.98 333.73) scale(0.93 1)" font-size="14.6">118</text>
<text class="d" transform="translate(368.39 334.73) scale(1.2 1)" font-size="14.6">-</text>
<text class="d" transform="translate(405.69 334.73) scale(1.2 1)" font-size="14.6">-</text>
<text transform="translate(442.98 333.73) scale(0.93 1)" font-size="14.6">116</text>
<text transform="translate(480.26 333.73) scale(0.907 1)" font-size="14.6">115.5</text>
<text transform="translate(517.56 333.73) scale(0.93 1)" font-size="14.6">114</text>
<text transform="translate(554.85 333.73) scale(0.93 1)" font-size="14.6">112</text>
<text transform="translate(592.13 333.73) scale(0.93 1)" font-size="14.6">111</text>
<text transform="translate(629.42 333.73) scale(0.93 1)" font-size="14.6">110</text>
<text transform="translate(666.71 333.73) scale(0.93 1)" font-size="14.6">104</text>
<text transform="translate(704 333.73) scale(0.93 1)" font-size="14.6">102</text>
<text transform="translate(741.3 333.73) scale(0.93 1)" font-size="14.6">95</text>
<text class="d" transform="translate(778.59 334.73) scale(1.2 1)" font-size="14.6">-</text>
<text class="d" transform="translate(815.88 334.73) scale(1.2 1)" font-size="14.6">-</text>
<text class="d" transform="translate(853.16 334.73) scale(1.2 1)" font-size="14.6">-</text>
<text class="d" transform="translate(890.45 334.73) scale(1.2 1)" font-size="14.6">-</text>
<text class="d" transform="translate(927.75 334.73) scale(1.2 1)" font-size="14.6">-</text>
<text class="d" transform="translate(964.94 334.73) scale(1.2 1)" font-size="14.6">-</text>
<text x="6.2" y="350.37" text-anchor="start" font-size="14.4" class="b"><tspan textLength="25.11" lengthAdjust="spacingAndGlyphs">PSD</tspan><tspan dx="1.0"> </tspan><tspan textLength="85.59" lengthAdjust="spacingAndGlyphs">100-315/1320</tspan></text>
<text transform="translate(167.25 350.62) scale(0.93 1)" font-size="14.6">125x100</text>
<text transform="translate(218.5 350.62) scale(0.93 1)" font-size="14.6">315</text>
<text transform="translate(258.9 350.62) scale(0.93 1)" font-size="14.6">125</text>
<text transform="translate(294.3 350.62) scale(0.93 1)" font-size="14.6">170</text>
<text transform="translate(330.98 350.62) scale(0.93 1)" font-size="14.6">129</text>
<text class="d" transform="translate(368.39 351.62) scale(1.2 1)" font-size="14.6">-</text>
<text class="d" transform="translate(405.69 351.62) scale(1.2 1)" font-size="14.6">-</text>
<text transform="translate(442.98 350.62) scale(0.93 1)" font-size="14.6">127</text>
<text transform="translate(480.26 350.62) scale(0.93 1)" font-size="14.6">126</text>
<text transform="translate(517.56 350.62) scale(0.93 1)" font-size="14.6">124</text>
<text transform="translate(554.85 350.62) scale(0.93 1)" font-size="14.6">123</text>
<text transform="translate(592.13 350.62) scale(0.93 1)" font-size="14.6">122</text>
<text transform="translate(629.42 350.62) scale(0.93 1)" font-size="14.6">121</text>
<text transform="translate(666.71 350.62) scale(0.93 1)" font-size="14.6">115</text>
<text transform="translate(704 350.62) scale(0.93 1)" font-size="14.6">112</text>
<text transform="translate(741.3 350.62) scale(0.93 1)" font-size="14.6">105</text>
<text class="d" transform="translate(778.59 351.62) scale(1.2 1)" font-size="14.6">-</text>
<text class="d" transform="translate(815.88 351.62) scale(1.2 1)" font-size="14.6">-</text>
<text class="d" transform="translate(853.16 351.62) scale(1.2 1)" font-size="14.6">-</text>
<text class="d" transform="translate(890.45 351.62) scale(1.2 1)" font-size="14.6">-</text>
<text class="d" transform="translate(927.75 351.62) scale(1.2 1)" font-size="14.6">-</text>
<text class="d" transform="translate(964.94 351.62) scale(1.2 1)" font-size="14.6">-</text>
<text x="6.2" y="367.26" text-anchor="start" font-size="14.4" class="b"><tspan textLength="25.11" lengthAdjust="spacingAndGlyphs">PSD</tspan><tspan dx="1.0"> </tspan><tspan textLength="85.59" lengthAdjust="spacingAndGlyphs">100-315/1600</tspan></text>
<text transform="translate(167.25 367.51) scale(0.93 1)" font-size="14.6">125x100</text>
<text transform="translate(218.5 367.51) scale(0.93 1)" font-size="14.6">328</text>
<text transform="translate(258.9 367.51) scale(0.93 1)" font-size="14.6">165</text>
<text transform="translate(294.3 367.51) scale(0.93 1)" font-size="14.6">225</text>
<text transform="translate(330.98 367.51) scale(0.93 1)" font-size="14.6">148</text>
<text class="d" transform="translate(368.39 368.51) scale(1.2 1)" font-size="14.6">-</text>
<text class="d" transform="translate(405.69 368.51) scale(1.2 1)" font-size="14.6">-</text>
<text transform="translate(442.98 367.51) scale(0.93 1)" font-size="14.6">146</text>
<text transform="translate(480.26 367.51) scale(0.93 1)" font-size="14.6">145</text>
<text transform="translate(517.56 367.51) scale(0.93 1)" font-size="14.6">144</text>
<text transform="translate(554.85 367.51) scale(0.93 1)" font-size="14.6">142</text>
<text transform="translate(592.13 367.51) scale(0.93 1)" font-size="14.6">141</text>
<text transform="translate(629.42 367.51) scale(0.93 1)" font-size="14.6">140</text>
<text transform="translate(666.71 367.51) scale(0.93 1)" font-size="14.6">134</text>
<text transform="translate(704 367.51) scale(0.93 1)" font-size="14.6">132</text>
<text transform="translate(741.3 367.51) scale(0.93 1)" font-size="14.6">125</text>
<text class="d" transform="translate(778.59 368.51) scale(1.2 1)" font-size="14.6">-</text>
<text class="d" transform="translate(815.88 368.51) scale(1.2 1)" font-size="14.6">-</text>
<text class="d" transform="translate(853.16 368.51) scale(1.2 1)" font-size="14.6">-</text>
<text class="d" transform="translate(890.45 368.51) scale(1.2 1)" font-size="14.6">-</text>
<text class="d" transform="translate(927.75 368.51) scale(1.2 1)" font-size="14.6">-</text>
<text class="d" transform="translate(964.94 368.51) scale(1.2 1)" font-size="14.6">-</text>
<text x="6.2" y="384.15" text-anchor="start" font-size="14.4" class="b"><tspan textLength="25.11" lengthAdjust="spacingAndGlyphs">PSD</tspan><tspan dx="1.0"> </tspan><tspan textLength="77.88" lengthAdjust="spacingAndGlyphs">125-250/750</tspan></text>
<text transform="translate(167.25 384.4) scale(0.93 1)" font-size="14.6">150x125</text>
<text transform="translate(218.5 384.4) scale(0.93 1)" font-size="14.6">255</text>
<text transform="translate(258.9 384.4) scale(0.93 1)" font-size="14.6">75</text>
<text transform="translate(294.3 384.4) scale(0.93 1)" font-size="14.6">100</text>
<text transform="translate(330.98 384.4) scale(0.93 1)" font-size="14.6">80</text>
<text class="d" transform="translate(368.39 385.4) scale(1.2 1)" font-size="14.6">-</text>
<text class="d" transform="translate(405.69 385.4) scale(1.2 1)" font-size="14.6">-</text>
<text transform="translate(442.98 384.4) scale(0.93 1)" font-size="14.6">77</text>
<text transform="translate(480.26 384.4) scale(0.93 1)" font-size="14.6">76</text>
<text transform="translate(517.56 384.4) scale(0.93 1)" font-size="14.6">74.5</text>
<text transform="translate(554.85 384.4) scale(0.93 1)" font-size="14.6">73</text>
<text transform="translate(592.13 384.4) scale(0.93 1)" font-size="14.6">72</text>
<text transform="translate(629.42 384.4) scale(0.93 1)" font-size="14.6">71</text>
<text transform="translate(666.71 384.4) scale(0.93 1)" font-size="14.6">67</text>
<text transform="translate(704 384.4) scale(0.93 1)" font-size="14.6">65</text>
<text transform="translate(741.3 384.4) scale(0.93 1)" font-size="14.6">60</text>
<text class="d" transform="translate(778.59 385.4) scale(1.2 1)" font-size="14.6">-</text>
<text class="d" transform="translate(815.88 385.4) scale(1.2 1)" font-size="14.6">-</text>
<text class="d" transform="translate(853.16 385.4) scale(1.2 1)" font-size="14.6">-</text>
<text class="d" transform="translate(890.45 385.4) scale(1.2 1)" font-size="14.6">-</text>
<text class="d" transform="translate(927.75 385.4) scale(1.2 1)" font-size="14.6">-</text>
<text class="d" transform="translate(964.94 385.4) scale(1.2 1)" font-size="14.6">-</text>
<text x="6.2" y="401.35" text-anchor="start" font-size="14.4" class="b"><tspan textLength="25.11" lengthAdjust="spacingAndGlyphs">PSD</tspan><tspan dx="1.0"> </tspan><tspan textLength="77.88" lengthAdjust="spacingAndGlyphs">125-250/900</tspan></text>
<text transform="translate(167.25 401.6) scale(0.93 1)" font-size="14.6">150x125</text>
<text transform="translate(218.5 401.6) scale(0.93 1)" font-size="14.6">265</text>
<text transform="translate(258.9 401.6) scale(0.93 1)" font-size="14.6">90</text>
<text transform="translate(294.3 401.6) scale(0.93 1)" font-size="14.6">125</text>
<text transform="translate(330.98 401.6) scale(0.93 1)" font-size="14.6">87</text>
<text class="d" transform="translate(368.39 402.6) scale(1.2 1)" font-size="14.6">-</text>
<text class="d" transform="translate(405.69 402.6) scale(1.2 1)" font-size="14.6">-</text>
<text transform="translate(442.98 401.6) scale(0.93 1)" font-size="14.6">84</text>
<text transform="translate(480.26 401.6) scale(0.93 1)" font-size="14.6">83</text>
<text transform="translate(517.56 401.6) scale(0.93 1)" font-size="14.6">81.5</text>
<text transform="translate(554.85 401.6) scale(0.93 1)" font-size="14.6">80</text>
<text transform="translate(592.13 401.6) scale(0.93 1)" font-size="14.6">78.5</text>
<text transform="translate(629.42 401.6) scale(0.93 1)" font-size="14.6">78</text>
<text transform="translate(666.71 401.6) scale(0.93 1)" font-size="14.6">73.5</text>
<text transform="translate(704 401.6) scale(0.93 1)" font-size="14.6">71.5</text>
<text transform="translate(741.3 401.6) scale(0.93 1)" font-size="14.6">67.5</text>
<text transform="translate(778.59 401.6) scale(0.93 1)" font-size="14.6">60</text>
<text class="d" transform="translate(815.88 402.6) scale(1.2 1)" font-size="14.6">-</text>
<text class="d" transform="translate(853.16 402.6) scale(1.2 1)" font-size="14.6">-</text>
<text class="d" transform="translate(890.45 402.6) scale(1.2 1)" font-size="14.6">-</text>
<text class="d" transform="translate(927.75 402.6) scale(1.2 1)" font-size="14.6">-</text>
<text class="d" transform="translate(964.94 402.6) scale(1.2 1)" font-size="14.6">-</text>
<text x="6.2" y="418.24" text-anchor="start" font-size="14.4" class="b"><tspan textLength="25.11" lengthAdjust="spacingAndGlyphs">PSD</tspan><tspan dx="1.0"> </tspan><tspan textLength="84.83" lengthAdjust="spacingAndGlyphs">125-250/1100</tspan></text>
<text transform="translate(167.25 418.49) scale(0.93 1)" font-size="14.6">150x125</text>
<text transform="translate(218.5 418.49) scale(0.93 1)" font-size="14.6">274</text>
<text transform="translate(258.9 418.49) scale(0.93 1)" font-size="14.6">110</text>
<text transform="translate(294.3 418.49) scale(0.93 1)" font-size="14.6">150</text>
<text transform="translate(330.98 418.49) scale(0.93 1)" font-size="14.6">97</text>
<text class="d" transform="translate(368.39 419.49) scale(1.2 1)" font-size="14.6">-</text>
<text class="d" transform="translate(405.69 419.49) scale(1.2 1)" font-size="14.6">-</text>
<text transform="translate(442.98 418.49) scale(0.93 1)" font-size="14.6">94</text>
<text transform="translate(480.26 418.49) scale(0.93 1)" font-size="14.6">93</text>
<text transform="translate(517.56 418.49) scale(0.93 1)" font-size="14.6">92</text>
<text transform="translate(554.85 418.49) scale(0.93 1)" font-size="14.6">90.5</text>
<text transform="translate(592.13 418.49) scale(0.93 1)" font-size="14.6">89</text>
<text transform="translate(629.42 418.49) scale(0.93 1)" font-size="14.6">88</text>
<text transform="translate(666.71 418.49) scale(0.93 1)" font-size="14.6">84</text>
<text transform="translate(704 418.49) scale(0.93 1)" font-size="14.6">83.5</text>
<text transform="translate(741.3 418.49) scale(0.93 1)" font-size="14.6">78.5</text>
<text transform="translate(778.59 418.49) scale(0.93 1)" font-size="14.6">71</text>
<text class="d" transform="translate(815.88 419.49) scale(1.2 1)" font-size="14.6">-</text>
<text class="d" transform="translate(853.16 419.49) scale(1.2 1)" font-size="14.6">-</text>
<text class="d" transform="translate(890.45 419.49) scale(1.2 1)" font-size="14.6">-</text>
<text class="d" transform="translate(927.75 419.49) scale(1.2 1)" font-size="14.6">-</text>
<text class="d" transform="translate(964.94 419.49) scale(1.2 1)" font-size="14.6">-</text>
<text x="6.2" y="435.14" text-anchor="start" font-size="14.4" class="b"><tspan textLength="25.11" lengthAdjust="spacingAndGlyphs">PSD</tspan><tspan dx="1.0"> </tspan><tspan textLength="94.84" lengthAdjust="spacingAndGlyphs">125-250H/1100</tspan></text>
<text transform="translate(167.25 435.39) scale(0.93 1)" font-size="14.6">150x125</text>
<text transform="translate(218.5 435.39) scale(0.93 1)" font-size="14.6">240</text>
<text transform="translate(258.9 435.39) scale(0.93 1)" font-size="14.6">110</text>
<text transform="translate(294.3 435.39) scale(0.93 1)" font-size="14.6">150</text>
<text transform="translate(330.98 435.39) scale(0.93 1)" font-size="14.6">74</text>
<text class="d" transform="translate(368.39 436.39) scale(1.2 1)" font-size="14.6">-</text>
<text class="d" transform="translate(405.69 436.39) scale(1.2 1)" font-size="14.6">-</text>
<text transform="translate(442.98 435.39) scale(0.93 1)" font-size="14.6">74.5</text>
<text transform="translate(480.26 435.39) scale(0.93 1)" font-size="14.6">74</text>
<text transform="translate(517.56 435.39) scale(0.93 1)" font-size="14.6">74</text>
<text transform="translate(554.85 435.39) scale(0.93 1)" font-size="14.6">73</text>
<text transform="translate(592.13 435.39) scale(0.93 1)" font-size="14.6">73</text>
<text transform="translate(629.42 435.39) scale(0.93 1)" font-size="14.6">72.5</text>
<text transform="translate(666.71 435.39) scale(0.93 1)" font-size="14.6">70.8</text>
<text transform="translate(704 435.39) scale(0.93 1)" font-size="14.6">70.4</text>
<text transform="translate(741.3 435.39) scale(0.93 1)" font-size="14.6">69</text>
<text transform="translate(778.59 435.39) scale(0.93 1)" font-size="14.6">66</text>
<text transform="translate(815.88 435.39) scale(0.93 1)" font-size="14.6">62.5</text>
<text transform="translate(853.16 435.39) scale(0.93 1)" font-size="14.6">53</text>
<text class="d" transform="translate(890.45 436.39) scale(1.2 1)" font-size="14.6">-</text>
<text class="d" transform="translate(927.75 436.39) scale(1.2 1)" font-size="14.6">-</text>
<text class="d" transform="translate(964.94 436.39) scale(1.2 1)" font-size="14.6">-</text>
<text x="6.2" y="452.03" text-anchor="start" font-size="14.4" class="b"><tspan textLength="25.11" lengthAdjust="spacingAndGlyphs">PSD</tspan><tspan dx="1.0"> </tspan><tspan textLength="95.61" lengthAdjust="spacingAndGlyphs">125-250H/1320</tspan></text>
<text transform="translate(167.25 452.28) scale(0.93 1)" font-size="14.6">150x125</text>
<text transform="translate(218.5 452.28) scale(0.93 1)" font-size="14.6">260</text>
<text transform="translate(258.9 452.28) scale(0.93 1)" font-size="14.6">125</text>
<text transform="translate(294.3 452.28) scale(0.93 1)" font-size="14.6">170</text>
<text transform="translate(330.98 452.28) scale(0.93 1)" font-size="14.6">84</text>
<text class="d" transform="translate(368.39 453.28) scale(1.2 1)" font-size="14.6">-</text>
<text class="d" transform="translate(405.69 453.28) scale(1.2 1)" font-size="14.6">-</text>
<text transform="translate(442.98 452.28) scale(0.93 1)" font-size="14.6">84</text>
<text transform="translate(480.26 452.28) scale(0.93 1)" font-size="14.6">84</text>
<text transform="translate(517.56 452.28) scale(0.93 1)" font-size="14.6">83.5</text>
<text transform="translate(554.85 452.28) scale(0.93 1)" font-size="14.6">83</text>
<text transform="translate(592.13 452.28) scale(0.93 1)" font-size="14.6">82.5</text>
<text transform="translate(629.42 452.28) scale(0.93 1)" font-size="14.6">82</text>
<text transform="translate(666.71 452.28) scale(0.93 1)" font-size="14.6">80.8</text>
<text transform="translate(704 452.28) scale(0.93 1)" font-size="14.6">80.4</text>
<text transform="translate(741.3 452.28) scale(0.93 1)" font-size="14.6">78.5</text>
<text transform="translate(778.59 452.28) scale(0.93 1)" font-size="14.6">76</text>
<text transform="translate(815.88 452.28) scale(0.93 1)" font-size="14.6">72</text>
<text transform="translate(853.16 452.28) scale(0.93 1)" font-size="14.6">63</text>
<text class="d" transform="translate(890.45 453.28) scale(1.2 1)" font-size="14.6">-</text>
<text class="d" transform="translate(927.75 453.28) scale(1.2 1)" font-size="14.6">-</text>
<text class="d" transform="translate(964.94 453.28) scale(1.2 1)" font-size="14.6">-</text>
<text x="6.2" y="468.93" text-anchor="start" font-size="14.4" class="b"><tspan textLength="25.11" lengthAdjust="spacingAndGlyphs">PSD</tspan><tspan dx="1.0"> </tspan><tspan textLength="95.61" lengthAdjust="spacingAndGlyphs">125-250H/1600</tspan></text>
<text transform="translate(167.25 469.18) scale(0.93 1)" font-size="14.6">150x125</text>
<text transform="translate(218.5 469.18) scale(0.93 1)" font-size="14.6">280</text>
<text transform="translate(258.9 469.18) scale(0.93 1)" font-size="14.6">165</text>
<text transform="translate(294.3 469.18) scale(0.93 1)" font-size="14.6">225</text>
<text transform="translate(330.98 469.18) scale(0.93 1)" font-size="14.6">98</text>
<text class="d" transform="translate(368.39 470.18) scale(1.2 1)" font-size="14.6">-</text>
<text class="d" transform="translate(405.69 470.18) scale(1.2 1)" font-size="14.6">-</text>
<text transform="translate(442.98 469.18) scale(0.93 1)" font-size="14.6">97.5</text>
<text transform="translate(480.26 469.18) scale(0.93 1)" font-size="14.6">97.5</text>
<text transform="translate(517.56 469.18) scale(0.93 1)" font-size="14.6">97.5</text>
<text transform="translate(554.85 469.18) scale(0.93 1)" font-size="14.6">97</text>
<text transform="translate(592.13 469.18) scale(0.93 1)" font-size="14.6">97</text>
<text transform="translate(629.42 469.18) scale(0.93 1)" font-size="14.6">96.5</text>
<text transform="translate(666.71 469.18) scale(0.93 1)" font-size="14.6">94.8</text>
<text transform="translate(704 469.18) scale(0.93 1)" font-size="14.6">94.4</text>
<text transform="translate(741.3 469.18) scale(0.93 1)" font-size="14.6">93</text>
<text transform="translate(778.59 469.18) scale(0.93 1)" font-size="14.6">90</text>
<text transform="translate(815.88 469.18) scale(0.93 1)" font-size="14.6">87</text>
<text transform="translate(853.16 469.18) scale(0.93 1)" font-size="14.6">78</text>
<text transform="translate(890.45 469.18) scale(0.93 1)" font-size="14.6">66</text>
<text class="d" transform="translate(927.75 470.18) scale(1.2 1)" font-size="14.6">-</text>
<text class="d" transform="translate(964.94 470.18) scale(1.2 1)" font-size="14.6">-</text>
<text x="6.2" y="485.82" text-anchor="start" font-size="14.4" class="b"><tspan textLength="25.11" lengthAdjust="spacingAndGlyphs">PSD</tspan><tspan dx="1.0"> </tspan><tspan textLength="85.59" lengthAdjust="spacingAndGlyphs">125-315/1320</tspan></text>
<text transform="translate(167.25 486.07) scale(0.93 1)" font-size="14.6">150x125</text>
<text transform="translate(218.5 486.07) scale(0.93 1)" font-size="14.6">280</text>
<text transform="translate(258.9 486.07) scale(0.93 1)" font-size="14.6">125</text>
<text transform="translate(294.3 486.07) scale(0.93 1)" font-size="14.6">170</text>
<text transform="translate(330.98 486.07) scale(0.93 1)" font-size="14.6">96</text>
<text class="d" transform="translate(368.39 487.07) scale(1.2 1)" font-size="14.6">-</text>
<text class="d" transform="translate(405.69 487.07) scale(1.2 1)" font-size="14.6">-</text>
<text class="d" transform="translate(442.98 487.07) scale(1.2 1)" font-size="14.6">-</text>
<text class="d" transform="translate(480.26 487.07) scale(1.2 1)" font-size="14.6">-</text>
<text class="d" transform="translate(517.56 487.07) scale(1.2 1)" font-size="14.6">-</text>
<text class="d" transform="translate(554.85 487.07) scale(1.2 1)" font-size="14.6">-</text>
<text transform="translate(592.13 486.07) scale(0.93 1)" font-size="14.6">96</text>
<text transform="translate(629.42 486.07) scale(0.93 1)" font-size="14.6">96</text>
<text transform="translate(666.71 486.07) scale(0.93 1)" font-size="14.6">94</text>
<text transform="translate(704 486.07) scale(0.93 1)" font-size="14.6">93.5</text>
<text transform="translate(741.3 486.07) scale(0.93 1)" font-size="14.6">92</text>
<text transform="translate(778.59 486.07) scale(0.93 1)" font-size="14.6">88.5</text>
<text transform="translate(815.88 486.07) scale(0.93 1)" font-size="14.6">84</text>
<text transform="translate(853.16 486.07) scale(0.93 1)" font-size="14.6">65</text>
<text class="d" transform="translate(890.45 487.07) scale(1.2 1)" font-size="14.6">-</text>
<text class="d" transform="translate(927.75 487.07) scale(1.2 1)" font-size="14.6">-</text>
<text class="d" transform="translate(964.94 487.07) scale(1.2 1)" font-size="14.6">-</text>
<text x="6.2" y="502.72" text-anchor="start" font-size="14.4" class="b"><tspan textLength="25.11" lengthAdjust="spacingAndGlyphs">PSD</tspan><tspan dx="1.0"> </tspan><tspan textLength="85.59" lengthAdjust="spacingAndGlyphs">125-315/1600</tspan></text>
<text transform="translate(167.25 502.97) scale(0.93 1)" font-size="14.6">150x125</text>
<text transform="translate(218.5 502.97) scale(0.93 1)" font-size="14.6">295</text>
<text transform="translate(258.9 502.97) scale(0.93 1)" font-size="14.6">165</text>
<text transform="translate(294.3 502.97) scale(0.93 1)" font-size="14.6">225</text>
<text transform="translate(330.98 502.97) scale(0.93 1)" font-size="14.6">106</text>
<text class="d" transform="translate(368.39 503.97) scale(1.2 1)" font-size="14.6">-</text>
<text class="d" transform="translate(405.69 503.97) scale(1.2 1)" font-size="14.6">-</text>
<text class="d" transform="translate(442.98 503.97) scale(1.2 1)" font-size="14.6">-</text>
<text class="d" transform="translate(480.26 503.97) scale(1.2 1)" font-size="14.6">-</text>
<text class="d" transform="translate(517.56 503.97) scale(1.2 1)" font-size="14.6">-</text>
<text class="d" transform="translate(554.85 503.97) scale(1.2 1)" font-size="14.6">-</text>
<text transform="translate(592.13 502.97) scale(0.907 1)" font-size="14.6">105.5</text>
<text transform="translate(629.42 502.97) scale(0.93 1)" font-size="14.6">105</text>
<text transform="translate(666.71 502.97) scale(0.93 1)" font-size="14.6">104</text>
<text transform="translate(704 502.97) scale(0.907 1)" font-size="14.6">103.5</text>
<text transform="translate(741.3 502.97) scale(0.93 1)" font-size="14.6">102</text>
<text transform="translate(778.59 502.97) scale(0.93 1)" font-size="14.6">100</text>
<text transform="translate(815.88 502.97) scale(0.93 1)" font-size="14.6">96</text>
<text transform="translate(853.16 502.97) scale(0.93 1)" font-size="14.6">82</text>
<text class="d" transform="translate(890.45 503.97) scale(1.2 1)" font-size="14.6">-</text>
<text class="d" transform="translate(927.75 503.97) scale(1.2 1)" font-size="14.6">-</text>
<text class="d" transform="translate(964.94 503.97) scale(1.2 1)" font-size="14.6">-</text>
<text x="6.2" y="519.61" text-anchor="start" font-size="14.4" class="b"><tspan textLength="25.11" lengthAdjust="spacingAndGlyphs">PSD</tspan><tspan dx="1.0"> </tspan><tspan textLength="85.59" lengthAdjust="spacingAndGlyphs">125-315/1850</tspan></text>
<text transform="translate(167.25 519.86) scale(0.93 1)" font-size="14.6">150x125</text>
<text transform="translate(218.5 519.86) scale(0.93 1)" font-size="14.6">310</text>
<text transform="translate(258.9 519.86) scale(0.93 1)" font-size="14.6">200</text>
<text transform="translate(294.3 519.86) scale(0.93 1)" font-size="14.6">270</text>
<text transform="translate(330.98 519.86) scale(0.93 1)" font-size="14.6">122</text>
<text class="d" transform="translate(368.39 520.86) scale(1.2 1)" font-size="14.6">-</text>
<text class="d" transform="translate(405.69 520.86) scale(1.2 1)" font-size="14.6">-</text>
<text class="d" transform="translate(442.98 520.86) scale(1.2 1)" font-size="14.6">-</text>
<text class="d" transform="translate(480.26 520.86) scale(1.2 1)" font-size="14.6">-</text>
<text class="d" transform="translate(517.56 520.86) scale(1.2 1)" font-size="14.6">-</text>
<text class="d" transform="translate(554.85 520.86) scale(1.2 1)" font-size="14.6">-</text>
<text transform="translate(592.13 519.86) scale(0.93 1)" font-size="14.6">122</text>
<text transform="translate(629.42 519.86) scale(0.907 1)" font-size="14.6">121.7</text>
<text transform="translate(666.71 519.86) scale(0.93 1)" font-size="14.6">120</text>
<text transform="translate(704 519.86) scale(0.907 1)" font-size="14.6">119.5</text>
<text transform="translate(741.3 519.86) scale(0.907 1)" font-size="14.6">118.5</text>
<text transform="translate(778.59 519.86) scale(0.93 1)" font-size="14.6">116</text>
<text transform="translate(815.88 519.86) scale(0.93 1)" font-size="14.6">110</text>
<text transform="translate(853.16 519.86) scale(0.93 1)" font-size="14.6">95</text>
<text class="d" transform="translate(890.45 520.86) scale(1.2 1)" font-size="14.6">-</text>
<text class="d" transform="translate(927.75 520.86) scale(1.2 1)" font-size="14.6">-</text>
<text class="d" transform="translate(964.94 520.86) scale(1.2 1)" font-size="14.6">-</text>
<text x="6.2" y="536.51" text-anchor="start" font-size="14.4" class="b"><tspan textLength="25.11" lengthAdjust="spacingAndGlyphs">PSD</tspan><tspan dx="1.0"> </tspan><tspan textLength="85.59" lengthAdjust="spacingAndGlyphs">125-315/2000</tspan></text>
<text transform="translate(167.25 536.76) scale(0.93 1)" font-size="14.6">150x125</text>
<text transform="translate(218.5 536.76) scale(0.93 1)" font-size="14.6">328</text>
<text transform="translate(258.9 536.76) scale(0.93 1)" font-size="14.6">200</text>
<text transform="translate(294.3 536.76) scale(0.93 1)" font-size="14.6">270</text>
<text transform="translate(330.98 536.76) scale(0.93 1)" font-size="14.6">136</text>
<text class="d" transform="translate(368.39 537.76) scale(1.2 1)" font-size="14.6">-</text>
<text class="d" transform="translate(405.69 537.76) scale(1.2 1)" font-size="14.6">-</text>
<text class="d" transform="translate(442.98 537.76) scale(1.2 1)" font-size="14.6">-</text>
<text class="d" transform="translate(480.26 537.76) scale(1.2 1)" font-size="14.6">-</text>
<text class="d" transform="translate(517.56 537.76) scale(1.2 1)" font-size="14.6">-</text>
<text class="d" transform="translate(554.85 537.76) scale(1.2 1)" font-size="14.6">-</text>
<text transform="translate(592.13 536.76) scale(0.93 1)" font-size="14.6">136</text>
<text transform="translate(629.42 536.76) scale(0.907 1)" font-size="14.6">135.5</text>
<text transform="translate(666.71 536.76) scale(0.93 1)" font-size="14.6">135</text>
<text transform="translate(704 536.76) scale(0.907 1)" font-size="14.6">133.5</text>
<text transform="translate(741.3 536.76) scale(0.93 1)" font-size="14.6">133</text>
<text transform="translate(778.59 536.76) scale(0.93 1)" font-size="14.6">130</text>
<text transform="translate(815.88 536.76) scale(0.93 1)" font-size="14.6">125</text>
<text transform="translate(853.16 536.76) scale(0.93 1)" font-size="14.6">110</text>
<text class="d" transform="translate(890.45 537.76) scale(1.2 1)" font-size="14.6">-</text>
<text class="d" transform="translate(927.75 537.76) scale(1.2 1)" font-size="14.6">-</text>
<text class="d" transform="translate(964.94 537.76) scale(1.2 1)" font-size="14.6">-</text>
<text x="6.2" y="553.4" text-anchor="start" font-size="14.4" class="b"><tspan textLength="25.11" lengthAdjust="spacingAndGlyphs">PSD</tspan><tspan dx="1.0"> </tspan><tspan textLength="85.59" lengthAdjust="spacingAndGlyphs">150-250/1320</tspan></text>
<text transform="translate(167.25 553.65) scale(0.93 1)" font-size="14.6">200x150</text>
<text transform="translate(218.5 553.65) scale(0.93 1)" font-size="14.6">265</text>
<text transform="translate(258.9 553.65) scale(0.93 1)" font-size="14.6">125</text>
<text transform="translate(294.3 553.65) scale(0.93 1)" font-size="14.6">170</text>
<text transform="translate(330.98 553.65) scale(0.93 1)" font-size="14.6">80.2</text>
<text class="d" transform="translate(368.39 554.65) scale(1.2 1)" font-size="14.6">-</text>
<text class="d" transform="translate(405.69 554.65) scale(1.2 1)" font-size="14.6">-</text>
<text class="d" transform="translate(442.98 554.65) scale(1.2 1)" font-size="14.6">-</text>
<text class="d" transform="translate(480.26 554.65) scale(1.2 1)" font-size="14.6">-</text>
<text class="d" transform="translate(517.56 554.65) scale(1.2 1)" font-size="14.6">-</text>
<text class="d" transform="translate(554.85 554.65) scale(1.2 1)" font-size="14.6">-</text>
<text class="d" transform="translate(592.13 554.65) scale(1.2 1)" font-size="14.6">-</text>
<text class="d" transform="translate(629.42 554.65) scale(1.2 1)" font-size="14.6">-</text>
<text class="d" transform="translate(666.71 554.65) scale(1.2 1)" font-size="14.6">-</text>
<text transform="translate(704 553.65) scale(0.93 1)" font-size="14.6">78</text>
<text transform="translate(741.3 553.65) scale(0.93 1)" font-size="14.6">75</text>
<text transform="translate(778.59 553.65) scale(0.93 1)" font-size="14.6">73.5</text>
<text transform="translate(815.88 553.65) scale(0.93 1)" font-size="14.6">71</text>
<text transform="translate(853.16 553.65) scale(0.93 1)" font-size="14.6">67</text>
<text transform="translate(890.45 553.65) scale(0.93 1)" font-size="14.6">61</text>
<text transform="translate(927.75 553.65) scale(0.93 1)" font-size="14.6">54</text>
<text transform="translate(964.94 553.65) scale(0.93 1)" font-size="14.6">37</text>
<text x="6.2" y="570.45" text-anchor="start" font-size="14.4" class="b"><tspan textLength="25.11" lengthAdjust="spacingAndGlyphs">PSD</tspan><tspan dx="1.0"> </tspan><tspan textLength="85.59" lengthAdjust="spacingAndGlyphs">150-250/1600</tspan></text>
<text transform="translate(167.25 570.7) scale(0.93 1)" font-size="14.6">200x150</text>
<text transform="translate(218.5 570.7) scale(0.93 1)" font-size="14.6">280</text>
<text transform="translate(258.9 570.7) scale(0.93 1)" font-size="14.6">165</text>
<text transform="translate(294.3 570.7) scale(0.93 1)" font-size="14.6">225</text>
<text transform="translate(330.98 570.7) scale(0.93 1)" font-size="14.6">90</text>
<text class="d" transform="translate(368.39 571.7) scale(1.2 1)" font-size="14.6">-</text>
<text class="d" transform="translate(405.69 571.7) scale(1.2 1)" font-size="14.6">-</text>
<text class="d" transform="translate(442.98 571.7) scale(1.2 1)" font-size="14.6">-</text>
<text class="d" transform="translate(480.26 571.7) scale(1.2 1)" font-size="14.6">-</text>
<text class="d" transform="translate(517.56 571.7) scale(1.2 1)" font-size="14.6">-</text>
<text class="d" transform="translate(554.85 571.7) scale(1.2 1)" font-size="14.6">-</text>
<text class="d" transform="translate(592.13 571.7) scale(1.2 1)" font-size="14.6">-</text>
<text class="d" transform="translate(629.42 571.7) scale(1.2 1)" font-size="14.6">-</text>
<text class="d" transform="translate(666.71 571.7) scale(1.2 1)" font-size="14.6">-</text>
<text transform="translate(704 570.7) scale(0.93 1)" font-size="14.6">88</text>
<text transform="translate(741.3 570.7) scale(0.93 1)" font-size="14.6">87</text>
<text transform="translate(778.59 570.7) scale(0.93 1)" font-size="14.6">85</text>
<text transform="translate(815.88 570.7) scale(0.93 1)" font-size="14.6">84</text>
<text transform="translate(853.16 570.7) scale(0.93 1)" font-size="14.6">79</text>
<text transform="translate(890.45 570.7) scale(0.93 1)" font-size="14.6">74</text>
<text transform="translate(927.75 570.7) scale(0.93 1)" font-size="14.6">66</text>
<text transform="translate(964.94 570.7) scale(0.93 1)" font-size="14.6">47</text>
<text x="6.2" y="587.33" text-anchor="start" font-size="14.4" class="b"><tspan textLength="25.11" lengthAdjust="spacingAndGlyphs">PSD</tspan><tspan dx="1.0"> </tspan><tspan textLength="85.59" lengthAdjust="spacingAndGlyphs">150-250/2000</tspan></text>
<text transform="translate(167.25 587.58) scale(0.93 1)" font-size="14.6">200x150</text>
<text transform="translate(218.5 587.58) scale(0.93 1)" font-size="14.6">295</text>
<text transform="translate(258.9 587.58) scale(0.93 1)" font-size="14.6">200</text>
<text transform="translate(294.3 587.58) scale(0.93 1)" font-size="14.6">270</text>
<text transform="translate(330.98 587.58) scale(0.93 1)" font-size="14.6">100</text>
<text class="d" transform="translate(368.39 588.58) scale(1.2 1)" font-size="14.6">-</text>
<text class="d" transform="translate(405.69 588.58) scale(1.2 1)" font-size="14.6">-</text>
<text class="d" transform="translate(442.98 588.58) scale(1.2 1)" font-size="14.6">-</text>
<text class="d" transform="translate(480.26 588.58) scale(1.2 1)" font-size="14.6">-</text>
<text class="d" transform="translate(517.56 588.58) scale(1.2 1)" font-size="14.6">-</text>
<text class="d" transform="translate(554.85 588.58) scale(1.2 1)" font-size="14.6">-</text>
<text class="d" transform="translate(592.13 588.58) scale(1.2 1)" font-size="14.6">-</text>
<text class="d" transform="translate(629.42 588.58) scale(1.2 1)" font-size="14.6">-</text>
<text class="d" transform="translate(666.71 588.58) scale(1.2 1)" font-size="14.6">-</text>
<text transform="translate(704 587.58) scale(0.93 1)" font-size="14.6">97</text>
<text transform="translate(741.3 587.58) scale(0.93 1)" font-size="14.6">96</text>
<text transform="translate(778.59 587.58) scale(0.93 1)" font-size="14.6">95</text>
<text transform="translate(815.88 587.58) scale(0.93 1)" font-size="14.6">93</text>
<text transform="translate(853.16 587.58) scale(0.93 1)" font-size="14.6">89</text>
<text transform="translate(890.45 587.58) scale(0.93 1)" font-size="14.6">84</text>
<text transform="translate(927.75 587.58) scale(0.93 1)" font-size="14.6">76</text>
<text transform="translate(964.94 587.58) scale(0.93 1)" font-size="14.6">56</text>
<text x="6.2" y="604.22" text-anchor="start" font-size="14.4" class="b"><tspan textLength="25.11" lengthAdjust="spacingAndGlyphs">PSD</tspan><tspan dx="1.0"> </tspan><tspan textLength="85.59" lengthAdjust="spacingAndGlyphs">150-315/1850</tspan></text>
<text transform="translate(167.25 604.47) scale(0.93 1)" font-size="14.6">200x150</text>
<text transform="translate(218.5 604.47) scale(0.93 1)" font-size="14.6">287</text>
<text transform="translate(258.9 604.47) scale(0.93 1)" font-size="14.6">200</text>
<text transform="translate(294.3 604.47) scale(0.93 1)" font-size="14.6">270</text>
<text transform="translate(330.98 604.47) scale(0.93 1)" font-size="14.6">92</text>
<text class="d" transform="translate(368.39 605.47) scale(1.2 1)" font-size="14.6">-</text>
<text class="d" transform="translate(405.69 605.47) scale(1.2 1)" font-size="14.6">-</text>
<text class="d" transform="translate(442.98 605.47) scale(1.2 1)" font-size="14.6">-</text>
<text class="d" transform="translate(480.26 605.47) scale(1.2 1)" font-size="14.6">-</text>
<text class="d" transform="translate(517.56 605.47) scale(1.2 1)" font-size="14.6">-</text>
<text class="d" transform="translate(554.85 605.47) scale(1.2 1)" font-size="14.6">-</text>
<text class="d" transform="translate(592.13 605.47) scale(1.2 1)" font-size="14.6">-</text>
<text class="d" transform="translate(629.42 605.47) scale(1.2 1)" font-size="14.6">-</text>
<text class="d" transform="translate(666.71 605.47) scale(1.2 1)" font-size="14.6">-</text>
<text transform="translate(704 604.47) scale(0.93 1)" font-size="14.6">90</text>
<text transform="translate(741.3 604.47) scale(0.93 1)" font-size="14.6">89</text>
<text transform="translate(778.59 604.47) scale(0.93 1)" font-size="14.6">87.2</text>
<text transform="translate(815.88 604.47) scale(0.93 1)" font-size="14.6">85</text>
<text transform="translate(853.16 604.47) scale(0.93 1)" font-size="14.6">80</text>
<text transform="translate(890.45 604.47) scale(0.93 1)" font-size="14.6">71</text>
<text transform="translate(927.75 604.47) scale(0.93 1)" font-size="14.6">61</text>
<text class="d" transform="translate(964.94 605.47) scale(1.2 1)" font-size="14.6">-</text>
<text x="6.2" y="621.1" text-anchor="start" font-size="14.4" class="b"><tspan textLength="25.11" lengthAdjust="spacingAndGlyphs">PSD</tspan><tspan dx="1.0"> </tspan><tspan textLength="85.59" lengthAdjust="spacingAndGlyphs">150-315/2500</tspan></text>
<text transform="translate(167.25 621.35) scale(0.93 1)" font-size="14.6">200x150</text>
<text transform="translate(218.5 621.35) scale(0.93 1)" font-size="14.6">305</text>
<text transform="translate(258.9 621.35) scale(0.93 1)" font-size="14.6">250</text>
<text transform="translate(294.3 621.35) scale(0.93 1)" font-size="14.6">340</text>
<text transform="translate(330.98 621.35) scale(0.93 1)" font-size="14.6">111</text>
<text class="d" transform="translate(368.39 622.35) scale(1.2 1)" font-size="14.6">-</text>
<text class="d" transform="translate(405.69 622.35) scale(1.2 1)" font-size="14.6">-</text>
<text class="d" transform="translate(442.98 622.35) scale(1.2 1)" font-size="14.6">-</text>
<text class="d" transform="translate(480.26 622.35) scale(1.2 1)" font-size="14.6">-</text>
<text class="d" transform="translate(517.56 622.35) scale(1.2 1)" font-size="14.6">-</text>
<text class="d" transform="translate(554.85 622.35) scale(1.2 1)" font-size="14.6">-</text>
<text class="d" transform="translate(592.13 622.35) scale(1.2 1)" font-size="14.6">-</text>
<text class="d" transform="translate(629.42 622.35) scale(1.2 1)" font-size="14.6">-</text>
<text class="d" transform="translate(666.71 622.35) scale(1.2 1)" font-size="14.6">-</text>
<text transform="translate(704 621.35) scale(0.93 1)" font-size="14.6">110</text>
<text transform="translate(741.3 621.35) scale(0.93 1)" font-size="14.6">108</text>
<text transform="translate(778.59 621.35) scale(0.93 1)" font-size="14.6">106</text>
<text transform="translate(815.88 621.35) scale(0.93 1)" font-size="14.6">104</text>
<text transform="translate(853.16 621.35) scale(0.93 1)" font-size="14.6">98</text>
<text transform="translate(890.45 621.35) scale(0.93 1)" font-size="14.6">90</text>
<text transform="translate(927.75 621.35) scale(0.93 1)" font-size="14.6">82</text>
<text transform="translate(964.94 621.35) scale(0.93 1)" font-size="14.6">62</text>
<text x="6.2" y="637.8" text-anchor="start" font-size="14.4" class="b"><tspan textLength="25.11" lengthAdjust="spacingAndGlyphs">PSD</tspan><tspan dx="1.0"> </tspan><tspan textLength="85.59" lengthAdjust="spacingAndGlyphs">150-315/2800</tspan></text>
<text transform="translate(167.25 638.05) scale(0.93 1)" font-size="14.6">200x150</text>
<text transform="translate(218.5 638.05) scale(0.93 1)" font-size="14.6">315</text>
<text transform="translate(258.9 638.05) scale(0.93 1)" font-size="14.6">300</text>
<text transform="translate(294.3 638.05) scale(0.93 1)" font-size="14.6">410</text>
<text transform="translate(330.98 638.05) scale(0.93 1)" font-size="14.6">124</text>
<text class="d" transform="translate(368.39 639.05) scale(1.2 1)" font-size="14.6">-</text>
<text class="d" transform="translate(405.69 639.05) scale(1.2 1)" font-size="14.6">-</text>
<text class="d" transform="translate(442.98 639.05) scale(1.2 1)" font-size="14.6">-</text>
<text class="d" transform="translate(480.26 639.05) scale(1.2 1)" font-size="14.6">-</text>
<text class="d" transform="translate(517.56 639.05) scale(1.2 1)" font-size="14.6">-</text>
<text class="d" transform="translate(554.85 639.05) scale(1.2 1)" font-size="14.6">-</text>
<text class="d" transform="translate(592.13 639.05) scale(1.2 1)" font-size="14.6">-</text>
<text class="d" transform="translate(629.42 639.05) scale(1.2 1)" font-size="14.6">-</text>
<text class="d" transform="translate(666.71 639.05) scale(1.2 1)" font-size="14.6">-</text>
<text transform="translate(704 638.05) scale(0.93 1)" font-size="14.6">121</text>
<text transform="translate(741.3 638.05) scale(0.93 1)" font-size="14.6">120</text>
<text transform="translate(778.59 638.05) scale(0.93 1)" font-size="14.6">118</text>
<text transform="translate(815.88 638.05) scale(0.93 1)" font-size="14.6">116</text>
<text transform="translate(853.16 638.05) scale(0.93 1)" font-size="14.6">111</text>
<text transform="translate(890.45 638.05) scale(0.93 1)" font-size="14.6">104</text>
<text transform="translate(927.75 638.05) scale(0.93 1)" font-size="14.6">95</text>
<text transform="translate(964.94 638.05) scale(0.93 1)" font-size="14.6">73</text>
<text x="6.2" y="654.65" text-anchor="start" font-size="14.4" class="b"><tspan textLength="25.11" lengthAdjust="spacingAndGlyphs">PSD</tspan><tspan dx="1.0"> </tspan><tspan textLength="85.59" lengthAdjust="spacingAndGlyphs">150-315/3150</tspan></text>
<text transform="translate(167.25 654.9) scale(0.93 1)" font-size="14.6">200x150</text>
<text transform="translate(218.5 654.9) scale(0.93 1)" font-size="14.6">327</text>
<text transform="translate(258.9 654.9) scale(0.93 1)" font-size="14.6">300</text>
<text transform="translate(294.3 654.9) scale(0.93 1)" font-size="14.6">410</text>
<text transform="translate(330.98 654.9) scale(0.93 1)" font-size="14.6">135</text>
<text class="d" transform="translate(368.39 655.9) scale(1.2 1)" font-size="14.6">-</text>
<text class="d" transform="translate(405.69 655.9) scale(1.2 1)" font-size="14.6">-</text>
<text class="d" transform="translate(442.98 655.9) scale(1.2 1)" font-size="14.6">-</text>
<text class="d" transform="translate(480.26 655.9) scale(1.2 1)" font-size="14.6">-</text>
<text class="d" transform="translate(517.56 655.9) scale(1.2 1)" font-size="14.6">-</text>
<text class="d" transform="translate(554.85 655.9) scale(1.2 1)" font-size="14.6">-</text>
<text class="d" transform="translate(592.13 655.9) scale(1.2 1)" font-size="14.6">-</text>
<text class="d" transform="translate(629.42 655.9) scale(1.2 1)" font-size="14.6">-</text>
<text class="d" transform="translate(666.71 655.9) scale(1.2 1)" font-size="14.6">-</text>
<text transform="translate(704 654.9) scale(0.93 1)" font-size="14.6">134</text>
<text transform="translate(741.3 654.9) scale(0.93 1)" font-size="14.6">133</text>
<text transform="translate(778.59 654.9) scale(0.93 1)" font-size="14.6">132</text>
<text transform="translate(815.88 654.9) scale(0.93 1)" font-size="14.6">130</text>
<text transform="translate(853.16 654.9) scale(0.93 1)" font-size="14.6">124</text>
<text transform="translate(890.45 654.9) scale(0.93 1)" font-size="14.6">116</text>
<text transform="translate(927.75 654.9) scale(0.93 1)" font-size="14.6">107</text>
<text transform="translate(964.94 654.9) scale(0.93 1)" font-size="14.6">84</text>
</svg>
</body></html>
